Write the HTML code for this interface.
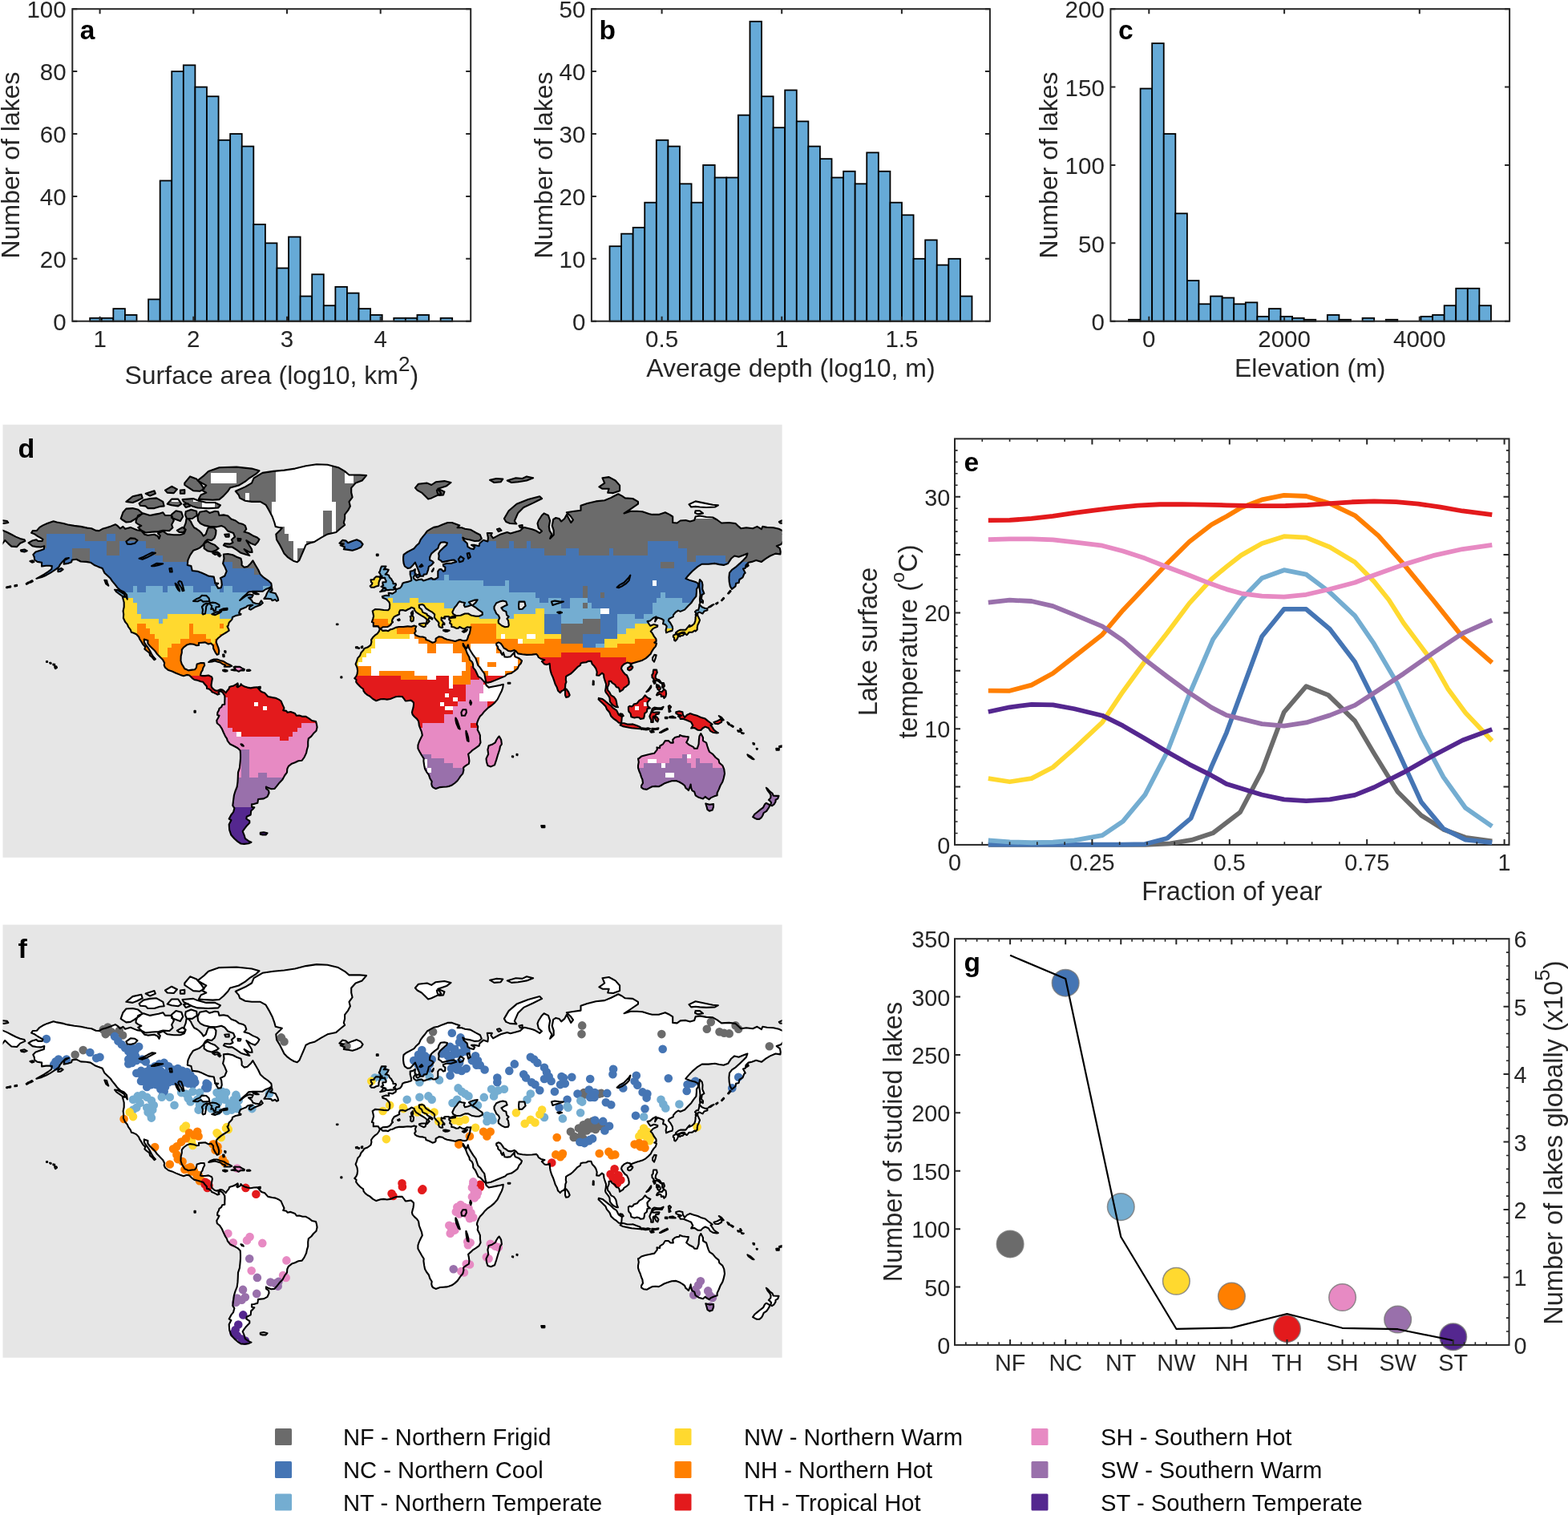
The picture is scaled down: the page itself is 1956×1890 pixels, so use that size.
<!DOCTYPE html>
<html lang="en"><head><meta charset="utf-8"><title>Lake thermal regions</title>
<style>html,body{margin:0;padding:0;background:#fff}body{width:1956px;height:1890px;overflow:hidden}svg{display:block}</style>
</head><body>
<svg xmlns="http://www.w3.org/2000/svg" width="1956" height="1890" viewBox="0 0 1956 1890" font-family='"Liberation Sans", Arial, Helvetica, sans-serif'>
<rect width="1956" height="1890" fill="#fff"/>
<rect x="112.2" y="396.81" width="14.58" height="3.9" fill="#66aad7" stroke="#000" stroke-width="1.8"/>
<rect x="126.78" y="396.81" width="14.58" height="3.9" fill="#66aad7" stroke="#000" stroke-width="1.8"/>
<rect x="141.36" y="385.12" width="14.58" height="15.58" fill="#66aad7" stroke="#000" stroke-width="1.8"/>
<rect x="155.94" y="392.91" width="14.58" height="7.79" fill="#66aad7" stroke="#000" stroke-width="1.8"/>
<rect x="185.1" y="373.44" width="14.58" height="27.27" fill="#66aad7" stroke="#000" stroke-width="1.8"/>
<rect x="199.68" y="225.42" width="14.58" height="175.28" fill="#66aad7" stroke="#000" stroke-width="1.8"/>
<rect x="214.26" y="89.1" width="14.58" height="311.6" fill="#66aad7" stroke="#000" stroke-width="1.8"/>
<rect x="228.84" y="81.31" width="14.58" height="319.39" fill="#66aad7" stroke="#000" stroke-width="1.8"/>
<rect x="243.42" y="108.57" width="14.58" height="292.12" fill="#66aad7" stroke="#000" stroke-width="1.8"/>
<rect x="258" y="120.26" width="14.58" height="280.44" fill="#66aad7" stroke="#000" stroke-width="1.8"/>
<rect x="272.58" y="174.79" width="14.58" height="225.91" fill="#66aad7" stroke="#000" stroke-width="1.8"/>
<rect x="287.16" y="167" width="14.58" height="233.7" fill="#66aad7" stroke="#000" stroke-width="1.8"/>
<rect x="301.74" y="182.58" width="14.58" height="218.12" fill="#66aad7" stroke="#000" stroke-width="1.8"/>
<rect x="316.32" y="279.95" width="14.58" height="120.75" fill="#66aad7" stroke="#000" stroke-width="1.8"/>
<rect x="330.9" y="303.32" width="14.58" height="97.38" fill="#66aad7" stroke="#000" stroke-width="1.8"/>
<rect x="345.48" y="334.49" width="14.58" height="66.22" fill="#66aad7" stroke="#000" stroke-width="1.8"/>
<rect x="360.06" y="295.53" width="14.58" height="105.17" fill="#66aad7" stroke="#000" stroke-width="1.8"/>
<rect x="374.64" y="369.54" width="14.58" height="31.16" fill="#66aad7" stroke="#000" stroke-width="1.8"/>
<rect x="389.22" y="342.27" width="14.58" height="58.42" fill="#66aad7" stroke="#000" stroke-width="1.8"/>
<rect x="403.8" y="381.22" width="14.58" height="19.48" fill="#66aad7" stroke="#000" stroke-width="1.8"/>
<rect x="418.38" y="357.86" width="14.58" height="42.84" fill="#66aad7" stroke="#000" stroke-width="1.8"/>
<rect x="432.96" y="365.64" width="14.58" height="35.05" fill="#66aad7" stroke="#000" stroke-width="1.8"/>
<rect x="447.54" y="385.12" width="14.58" height="15.58" fill="#66aad7" stroke="#000" stroke-width="1.8"/>
<rect x="462.12" y="392.91" width="14.58" height="7.79" fill="#66aad7" stroke="#000" stroke-width="1.8"/>
<rect x="491.28" y="396.81" width="14.58" height="3.9" fill="#66aad7" stroke="#000" stroke-width="1.8"/>
<rect x="505.86" y="396.81" width="14.58" height="3.9" fill="#66aad7" stroke="#000" stroke-width="1.8"/>
<rect x="520.44" y="392.91" width="14.58" height="7.79" fill="#66aad7" stroke="#000" stroke-width="1.8"/>
<rect x="549.6" y="396.81" width="14.58" height="3.9" fill="#66aad7" stroke="#000" stroke-width="1.8"/>
<rect x="90.3" y="11.2" width="496.9" height="389.5" fill="none" stroke="#262626" stroke-width="2"/>
<path d="M124.6 400.7v-6M124.6 11.2v6M241.3 400.7v-6M241.3 11.2v6M358 400.7v-6M358 11.2v6M474.7 400.7v-6M474.7 11.2v6" stroke="#262626" stroke-width="2" fill="none"/>
<path d="M90.3 400.7h6M587.2 400.7h-6M90.3 322.8h6M587.2 322.8h-6M90.3 244.9h6M587.2 244.9h-6M90.3 167h6M587.2 167h-6M90.3 89.1h6M587.2 89.1h-6M90.3 11.2h6M587.2 11.2h-6" stroke="#262626" stroke-width="2" fill="none"/>
<text x="124.6" y="433.2" font-size="29.5" text-anchor="middle" fill="#262626">1</text>
<text x="241.3" y="433.2" font-size="29.5" text-anchor="middle" fill="#262626">2</text>
<text x="358" y="433.2" font-size="29.5" text-anchor="middle" fill="#262626">3</text>
<text x="474.7" y="433.2" font-size="29.5" text-anchor="middle" fill="#262626">4</text>
<text x="82.7" y="411.9" font-size="29.5" text-anchor="end" fill="#262626">0</text>
<text x="82.7" y="334" font-size="29.5" text-anchor="end" fill="#262626">20</text>
<text x="82.7" y="256.1" font-size="29.5" text-anchor="end" fill="#262626">40</text>
<text x="82.7" y="178.2" font-size="29.5" text-anchor="end" fill="#262626">60</text>
<text x="82.7" y="100.3" font-size="29.5" text-anchor="end" fill="#262626">80</text>
<text x="82.7" y="22.4" font-size="29.5" text-anchor="end" fill="#262626">100</text>
<text x="23.7" y="205.95" font-size="32" text-anchor="middle" fill="#262626" transform="rotate(-90 23.7 205.95)">Number of lakes</text>
<text x="338.75" y="478.6" font-size="32" text-anchor="middle" fill="#262626">Surface area (log10, km<tspan dy="-16" font-size="26">2</tspan><tspan dy="16">)</tspan></text>
<text x="99.8" y="49" font-size="33.5" font-weight="bold" fill="#000">a</text>
<rect x="760.5" y="307.22" width="14.58" height="93.48" fill="#66aad7" stroke="#000" stroke-width="1.8"/>
<rect x="775.08" y="291.64" width="14.58" height="109.06" fill="#66aad7" stroke="#000" stroke-width="1.8"/>
<rect x="789.66" y="283.85" width="14.58" height="116.85" fill="#66aad7" stroke="#000" stroke-width="1.8"/>
<rect x="804.24" y="252.69" width="14.58" height="148.01" fill="#66aad7" stroke="#000" stroke-width="1.8"/>
<rect x="818.82" y="174.79" width="14.58" height="225.91" fill="#66aad7" stroke="#000" stroke-width="1.8"/>
<rect x="833.4" y="182.58" width="14.58" height="218.12" fill="#66aad7" stroke="#000" stroke-width="1.8"/>
<rect x="847.98" y="229.32" width="14.58" height="171.38" fill="#66aad7" stroke="#000" stroke-width="1.8"/>
<rect x="862.56" y="252.69" width="14.58" height="148.01" fill="#66aad7" stroke="#000" stroke-width="1.8"/>
<rect x="877.14" y="205.95" width="14.58" height="194.75" fill="#66aad7" stroke="#000" stroke-width="1.8"/>
<rect x="891.72" y="221.53" width="14.58" height="179.17" fill="#66aad7" stroke="#000" stroke-width="1.8"/>
<rect x="906.3" y="221.53" width="14.58" height="179.17" fill="#66aad7" stroke="#000" stroke-width="1.8"/>
<rect x="920.88" y="143.63" width="14.58" height="257.07" fill="#66aad7" stroke="#000" stroke-width="1.8"/>
<rect x="935.46" y="26.78" width="14.58" height="373.92" fill="#66aad7" stroke="#000" stroke-width="1.8"/>
<rect x="950.04" y="120.26" width="14.58" height="280.44" fill="#66aad7" stroke="#000" stroke-width="1.8"/>
<rect x="964.62" y="159.21" width="14.58" height="241.49" fill="#66aad7" stroke="#000" stroke-width="1.8"/>
<rect x="979.2" y="112.47" width="14.58" height="288.23" fill="#66aad7" stroke="#000" stroke-width="1.8"/>
<rect x="993.78" y="151.42" width="14.58" height="249.28" fill="#66aad7" stroke="#000" stroke-width="1.8"/>
<rect x="1008.36" y="182.58" width="14.58" height="218.12" fill="#66aad7" stroke="#000" stroke-width="1.8"/>
<rect x="1022.94" y="198.16" width="14.58" height="202.54" fill="#66aad7" stroke="#000" stroke-width="1.8"/>
<rect x="1037.52" y="221.53" width="14.58" height="179.17" fill="#66aad7" stroke="#000" stroke-width="1.8"/>
<rect x="1052.1" y="213.74" width="14.58" height="186.96" fill="#66aad7" stroke="#000" stroke-width="1.8"/>
<rect x="1066.68" y="229.32" width="14.58" height="171.38" fill="#66aad7" stroke="#000" stroke-width="1.8"/>
<rect x="1081.26" y="190.37" width="14.58" height="210.33" fill="#66aad7" stroke="#000" stroke-width="1.8"/>
<rect x="1095.84" y="213.74" width="14.58" height="186.96" fill="#66aad7" stroke="#000" stroke-width="1.8"/>
<rect x="1110.42" y="252.69" width="14.58" height="148.01" fill="#66aad7" stroke="#000" stroke-width="1.8"/>
<rect x="1125" y="268.27" width="14.58" height="132.43" fill="#66aad7" stroke="#000" stroke-width="1.8"/>
<rect x="1139.58" y="322.8" width="14.58" height="77.9" fill="#66aad7" stroke="#000" stroke-width="1.8"/>
<rect x="1154.16" y="299.43" width="14.58" height="101.27" fill="#66aad7" stroke="#000" stroke-width="1.8"/>
<rect x="1168.74" y="330.59" width="14.58" height="70.11" fill="#66aad7" stroke="#000" stroke-width="1.8"/>
<rect x="1183.32" y="322.8" width="14.58" height="77.9" fill="#66aad7" stroke="#000" stroke-width="1.8"/>
<rect x="1197.9" y="369.54" width="14.58" height="31.16" fill="#66aad7" stroke="#000" stroke-width="1.8"/>
<rect x="737.9" y="11.2" width="497" height="389.5" fill="none" stroke="#262626" stroke-width="2"/>
<path d="M825.6 400.7v-6M825.6 11.2v6M975.2 400.7v-6M975.2 11.2v6M1124.9 400.7v-6M1124.9 11.2v6" stroke="#262626" stroke-width="2" fill="none"/>
<path d="M737.9 400.7h6M1234.9 400.7h-6M737.9 322.8h6M1234.9 322.8h-6M737.9 244.9h6M1234.9 244.9h-6M737.9 167h6M1234.9 167h-6M737.9 89.1h6M1234.9 89.1h-6M737.9 11.2h6M1234.9 11.2h-6" stroke="#262626" stroke-width="2" fill="none"/>
<text x="825.6" y="433.2" font-size="29.5" text-anchor="middle" fill="#262626">0.5</text>
<text x="975.2" y="433.2" font-size="29.5" text-anchor="middle" fill="#262626">1</text>
<text x="1124.9" y="433.2" font-size="29.5" text-anchor="middle" fill="#262626">1.5</text>
<text x="730.3" y="411.9" font-size="29.5" text-anchor="end" fill="#262626">0</text>
<text x="730.3" y="334" font-size="29.5" text-anchor="end" fill="#262626">10</text>
<text x="730.3" y="256.1" font-size="29.5" text-anchor="end" fill="#262626">20</text>
<text x="730.3" y="178.2" font-size="29.5" text-anchor="end" fill="#262626">30</text>
<text x="730.3" y="100.3" font-size="29.5" text-anchor="end" fill="#262626">40</text>
<text x="730.3" y="22.4" font-size="29.5" text-anchor="end" fill="#262626">50</text>
<text x="688.9" y="205.95" font-size="32" text-anchor="middle" fill="#262626" transform="rotate(-90 688.9 205.95)">Number of lakes</text>
<text x="986.4" y="470" font-size="32" text-anchor="middle" fill="#262626">Average depth (log10, m)</text>
<text x="747.4" y="49" font-size="33.5" font-weight="bold" fill="#000">b</text>
<rect x="1408" y="398.75" width="14.58" height="1.95" fill="#66aad7" stroke="#000" stroke-width="1.8"/>
<rect x="1422.58" y="110.52" width="14.58" height="290.18" fill="#66aad7" stroke="#000" stroke-width="1.8"/>
<rect x="1437.16" y="54.04" width="14.58" height="346.66" fill="#66aad7" stroke="#000" stroke-width="1.8"/>
<rect x="1451.74" y="167" width="14.58" height="233.7" fill="#66aad7" stroke="#000" stroke-width="1.8"/>
<rect x="1466.32" y="266.32" width="14.58" height="134.38" fill="#66aad7" stroke="#000" stroke-width="1.8"/>
<rect x="1480.9" y="350.06" width="14.58" height="50.63" fill="#66aad7" stroke="#000" stroke-width="1.8"/>
<rect x="1495.48" y="379.28" width="14.58" height="21.42" fill="#66aad7" stroke="#000" stroke-width="1.8"/>
<rect x="1510.06" y="369.54" width="14.58" height="31.16" fill="#66aad7" stroke="#000" stroke-width="1.8"/>
<rect x="1524.64" y="371.49" width="14.58" height="29.21" fill="#66aad7" stroke="#000" stroke-width="1.8"/>
<rect x="1539.22" y="379.28" width="14.58" height="21.42" fill="#66aad7" stroke="#000" stroke-width="1.8"/>
<rect x="1553.8" y="377.33" width="14.58" height="23.37" fill="#66aad7" stroke="#000" stroke-width="1.8"/>
<rect x="1568.38" y="394.86" width="14.58" height="5.84" fill="#66aad7" stroke="#000" stroke-width="1.8"/>
<rect x="1582.96" y="385.12" width="14.58" height="15.58" fill="#66aad7" stroke="#000" stroke-width="1.8"/>
<rect x="1597.54" y="394.86" width="14.58" height="5.84" fill="#66aad7" stroke="#000" stroke-width="1.8"/>
<rect x="1612.12" y="396.81" width="14.58" height="3.9" fill="#66aad7" stroke="#000" stroke-width="1.8"/>
<rect x="1626.7" y="398.75" width="14.58" height="1.95" fill="#66aad7" stroke="#000" stroke-width="1.8"/>
<rect x="1655.86" y="392.91" width="14.58" height="7.79" fill="#66aad7" stroke="#000" stroke-width="1.8"/>
<rect x="1670.44" y="398.75" width="14.58" height="1.95" fill="#66aad7" stroke="#000" stroke-width="1.8"/>
<rect x="1699.6" y="396.81" width="14.58" height="3.9" fill="#66aad7" stroke="#000" stroke-width="1.8"/>
<rect x="1728.76" y="398.75" width="14.58" height="1.95" fill="#66aad7" stroke="#000" stroke-width="1.8"/>
<rect x="1772.5" y="394.86" width="14.58" height="5.84" fill="#66aad7" stroke="#000" stroke-width="1.8"/>
<rect x="1787.08" y="392.91" width="14.58" height="7.79" fill="#66aad7" stroke="#000" stroke-width="1.8"/>
<rect x="1801.66" y="381.22" width="14.58" height="19.48" fill="#66aad7" stroke="#000" stroke-width="1.8"/>
<rect x="1816.24" y="359.8" width="14.58" height="40.9" fill="#66aad7" stroke="#000" stroke-width="1.8"/>
<rect x="1830.82" y="359.8" width="14.58" height="40.9" fill="#66aad7" stroke="#000" stroke-width="1.8"/>
<rect x="1845.4" y="381.22" width="14.58" height="19.48" fill="#66aad7" stroke="#000" stroke-width="1.8"/>
<rect x="1385.4" y="11.2" width="497.7" height="389.5" fill="none" stroke="#262626" stroke-width="2"/>
<path d="M1433.3 400.7v-6M1433.3 11.2v6M1602.1 400.7v-6M1602.1 11.2v6M1770.8 400.7v-6M1770.8 11.2v6" stroke="#262626" stroke-width="2" fill="none"/>
<path d="M1385.4 400.7h6M1883.1 400.7h-6M1385.4 303.32h6M1883.1 303.32h-6M1385.4 205.95h6M1883.1 205.95h-6M1385.4 108.57h6M1883.1 108.57h-6M1385.4 11.2h6M1883.1 11.2h-6" stroke="#262626" stroke-width="2" fill="none"/>
<text x="1433.3" y="433.2" font-size="29.5" text-anchor="middle" fill="#262626">0</text>
<text x="1602.1" y="433.2" font-size="29.5" text-anchor="middle" fill="#262626">2000</text>
<text x="1770.8" y="433.2" font-size="29.5" text-anchor="middle" fill="#262626">4000</text>
<text x="1377.8" y="411.9" font-size="29.5" text-anchor="end" fill="#262626">0</text>
<text x="1377.8" y="314.52" font-size="29.5" text-anchor="end" fill="#262626">50</text>
<text x="1377.8" y="217.15" font-size="29.5" text-anchor="end" fill="#262626">100</text>
<text x="1377.8" y="119.77" font-size="29.5" text-anchor="end" fill="#262626">150</text>
<text x="1377.8" y="22.4" font-size="29.5" text-anchor="end" fill="#262626">200</text>
<text x="1318.8" y="205.95" font-size="32" text-anchor="middle" fill="#262626" transform="rotate(-90 1318.8 205.95)">Number of lakes</text>
<text x="1634.25" y="470" font-size="32" text-anchor="middle" fill="#262626">Elevation (m)</text>
<text x="1394.9" y="49" font-size="33.5" font-weight="bold" fill="#000">c</text>
<defs>
<clipPath id="mapclip"><rect x="3.5" y="529.7" width="972.1" height="540.1"/></clipPath>
<path id="land" d="M35.6 677.2L40.0 674.6L45.4 673.2L47.5 675.0L52.6 675.0L53.5 672.8L50.5 670.9L47.2 669.1L43.2 666.4L39.1 664.7L40.8 662.1L45.9 661.9L49.4 657.9L53.5 655.4L58.9 653.0L66.7 650.3L71.0 651.5L79.1 653.0L84.5 654.5L92.6 655.9L100.7 656.9L108.8 658.6L114.2 659.3L119.6 661.9L123.7 662.1L127.7 659.8L133.1 658.3L138.5 656.4L143.9 654.2L146.6 655.9L149.9 659.3L153.4 656.9L156.1 659.8L162.8 657.9L170.9 661.2L176.3 662.1L180.4 666.8L184.4 667.7L192.5 666.8L196.6 668.7L198.5 671.9L199.8 668.2L197.1 665.4L203.3 662.6L208.7 666.4L216.8 667.3L224.9 667.3L229.8 665.4L231.4 661.7L229.5 657.9L231.7 652.5L232.5 647.5L234.9 647.0L237.9 650.5L239.8 654.5L242.2 658.3L245.2 659.8L248.4 662.1L251.4 665.0L253.8 668.7L256.8 666.4L258.4 661.7L260.0 657.9L266.8 658.3L269.5 661.7L269.2 666.4L267.6 670.9L264.1 674.1L258.7 673.2L256.0 675.5L253.3 679.9L249.2 683.4L246.5 684.7L241.1 686.8L237.1 692.7L234.4 698.9L233.8 704.9L238.4 706.1L239.8 712.0L246.5 712.7L251.9 714.7L260.0 718.5L266.8 719.6L268.1 725.9L270.0 730.3L272.2 733.9L275.7 733.2L276.8 729.6L276.2 724.1L274.9 721.1L280.3 718.5L282.7 712.7L280.3 706.9L278.1 702.9L279.5 696.8L278.9 691.5L284.3 691.0L290.3 692.3L295.1 694.8L300.5 696.8L301.6 700.9L301.6 704.9L304.6 707.7L308.6 706.9L312.7 702.9L315.4 699.3L318.6 704.9L322.1 710.8L324.8 716.6L328.9 720.4L334.3 724.1L338.3 727.8L338.9 731.4L335.6 733.6L331.6 735.0L327.5 737.8L322.1 737.8L315.4 737.8L310.0 738.5L307.3 741.3L303.2 744.8L299.2 748.9L301.9 746.9L305.9 743.8L311.3 741.5L315.7 742.4L314.0 745.5L310.0 745.5L314.0 748.9L315.4 751.6L319.4 753.0L323.5 753.3L325.9 749.3L327.8 752.3L324.8 754.7L318.1 757.3L312.7 760.6L310.8 759.7L311.3 757.3L315.4 754.7L312.7 754.7L308.6 755.7L307.3 757.3L303.2 759.0L300.0 760.3L298.6 763.3L298.1 764.9L300.5 766.0L300.3 766.8L296.5 767.5L293.8 768.1L290.0 770.0L289.5 772.6L287.3 775.1L285.7 776.7L284.6 780.8L283.5 781.4L285.1 784.5L285.7 786.6L283.0 788.5L279.5 790.6L276.2 792.7L272.2 796.0L270.3 798.1L269.7 801.1L271.1 804.9L272.2 807.6L273.3 812.0L272.7 816.0L270.8 816.9L268.9 814.3L266.2 809.0L266.0 805.5L263.3 802.6L260.0 803.5L256.0 801.4L251.9 801.7L247.9 802.0L248.1 804.9L245.2 805.2L241.7 803.8L237.1 803.2L233.0 804.6L229.0 807.6L226.8 810.5L226.8 814.3L225.7 818.6L225.5 824.3L226.8 828.5L229.0 831.9L230.3 834.2L233.0 835.3L234.9 836.4L239.8 835.6L243.0 835.3L244.9 832.8L245.7 828.5L250.6 827.1L254.6 827.1L255.2 829.9L253.3 833.3L252.5 836.4L251.1 838.3L250.0 842.5L251.9 843.1L256.0 843.1L260.0 842.5L264.1 844.4L264.9 846.6L264.1 850.8L263.5 854.9L264.1 857.6L266.8 860.3L269.5 861.7L272.2 861.2L274.9 860.1L277.6 860.6L280.3 862.8L281.6 864.4L283.0 862.2L285.4 859.5L286.2 857.1L288.4 856.3L291.6 855.4L294.6 853.8L296.5 852.4L297.0 854.3L295.4 856.5L296.5 857.3L300.0 855.2L300.5 853.2L301.9 854.9L305.1 856.5L308.6 857.6L312.7 858.4L316.7 857.6L320.8 857.3L322.4 859.0L324.8 861.7L326.2 863.1L330.2 864.4L334.3 869.0L339.7 870.1L343.7 870.7L347.8 872.6L350.5 874.5L352.6 879.3L354.5 883.4L353.2 886.1L357.2 886.9L358.6 888.8L362.6 888.0L368.0 890.1L369.9 892.8L373.4 892.6L377.5 893.9L381.5 893.9L385.6 896.3L389.1 899.0L394.0 900.1L395.0 903.6L395.6 907.2L394.5 911.8L391.0 915.1L388.3 918.6L384.8 921.4L384.2 925.5L384.2 931.0L382.9 935.2L382.1 939.4L379.4 945.0L376.7 948.7L372.1 949.3L368.0 951.3L364.0 952.7L359.9 955.9L358.3 959.3L358.0 963.7L355.1 967.5L352.4 972.5L348.6 976.4L345.1 980.9L342.4 984.0L338.3 984.3L334.3 982.8L331.9 981.5L332.1 984.0L335.1 986.1L335.6 989.2L333.5 993.9L328.9 996.4L322.1 997.0L321.3 1001.8L316.7 1003.1L314.0 1003.4L314.0 1006.6L317.3 1007.3L315.4 1009.5L313.2 1011.5L312.7 1016.5L307.8 1018.8L307.3 1021.5L311.3 1024.2L311.3 1026.6L307.3 1030.8L304.6 1034.3L302.7 1037.2L304.6 1041.8L305.9 1046.2L310.0 1049.2L313.5 1050.7L310.0 1052.2L304.6 1052.9L300.5 1052.5L296.5 1049.9L292.4 1046.2L288.4 1041.8L286.2 1035.4L285.7 1028.4L288.4 1023.2L285.7 1021.5L288.4 1016.5L291.1 1013.2L292.4 1008.2L290.3 1005.0L291.1 998.6L291.9 992.3L293.5 987.0L295.7 981.5L296.5 975.5L296.8 969.6L297.0 963.7L298.9 957.9L299.5 952.1L300.0 946.4L300.0 940.8L299.7 936.3L296.5 933.2L292.4 931.0L287.0 928.3L283.8 924.1L283.0 921.4L281.1 918.6L278.9 914.0L276.8 909.1L274.1 905.0L270.8 902.3L270.3 898.8L272.2 895.5L273.5 892.8L271.1 892.0L271.4 888.8L273.0 886.1L273.5 883.9L276.2 882.0L277.3 879.3L280.3 878.8L280.3 875.3L280.5 871.2L280.3 867.7L279.2 866.3L277.8 863.9L274.9 862.0L272.4 863.6L273.5 865.8L271.4 866.6L268.9 865.2L266.2 863.9L264.1 863.1L263.5 861.7L260.6 859.5L258.1 859.0L257.9 856.3L255.4 853.5L253.3 850.8L250.6 850.2L246.5 848.8L242.5 848.0L239.8 846.1L236.3 842.5L233.0 841.9L229.0 843.3L224.9 841.9L219.5 839.7L214.7 837.5L210.1 836.1L206.0 832.8L204.7 829.9L205.2 827.1L203.3 823.4L199.3 819.2L195.8 815.7L193.9 812.8L191.2 809.9L187.1 806.1L184.4 802.6L184.4 799.0L179.8 797.5L179.8 801.1L181.7 804.1L185.0 808.5L187.1 812.0L189.0 815.7L191.2 819.2L193.9 822.3L192.5 823.2L189.8 820.0L187.1 817.7L186.3 814.3L183.1 812.0L180.4 809.6L181.2 807.0L178.2 803.8L176.3 800.5L174.2 797.2L173.1 794.5L170.1 791.2L166.9 789.7L163.9 788.8L162.8 785.7L160.1 782.0L158.8 778.9L156.1 775.8L153.9 771.0L154.2 766.2L153.6 762.3L154.7 757.3L154.7 751.6L152.8 744.5L157.4 744.8L158.8 747.6L158.0 742.0L154.7 738.5L150.7 736.8L146.6 733.2L143.9 729.6L139.9 724.8L137.7 721.5L134.5 718.5L130.4 714.7L127.7 708.9L122.3 706.9L118.3 705.3L112.9 701.7L107.5 700.9L100.7 700.5L95.3 697.7L89.9 698.5L89.1 701.3L84.5 702.9L79.6 703.7L80.5 698.9L85.9 696.0L81.8 696.8L77.8 700.9L75.1 704.1L73.2 707.7L68.3 711.2L62.9 714.7L57.5 717.7L52.1 720.0L45.4 721.8L49.4 719.6L54.8 716.6L60.2 713.1L64.3 710.0L64.8 706.1L61.6 705.7L57.5 705.7L52.1 706.5L52.1 701.7L46.7 700.9L43.2 698.5L42.7 694.8L41.3 691.9L44.5 688.5L50.8 686.4L54.8 685.1L55.3 681.2L50.8 682.5L45.4 682.1L40.5 681.2ZM293.8 612.8L305.9 607.4L314.0 602.6L316.7 596.3L327.5 589.9L341.0 587.9L354.5 586.6L368.0 584.6L381.5 581.2L395.0 579.2L408.5 579.8L422.0 583.2L430.1 587.9L435.5 592.5L449.0 592.5L457.1 593.1L451.7 599.5L443.6 602.6L438.2 608.6L438.2 614.6L439.6 620.3L435.5 625.9L436.9 631.4L434.2 636.7L430.1 641.9L430.1 647.0L428.8 652.0L430.1 655.0L424.7 659.3L419.3 664.0L408.5 666.4L400.4 670.9L392.3 675.9L385.6 677.7L381.5 679.9L378.8 686.4L376.1 692.7L373.4 698.9L370.7 701.3L366.7 700.1L362.6 697.7L358.6 694.8L354.5 690.6L351.8 685.1L349.1 679.9L345.1 673.2L344.3 666.4L349.1 661.7L351.8 658.8L343.7 656.9L342.4 652.0L339.7 644.5L335.6 636.7L331.6 629.8L324.8 625.9L314.0 625.9L305.9 624.8L299.2 621.4L297.8 617.5ZM423.4 677.7L427.4 673.7L431.5 674.6L434.2 677.2L439.6 675.0L445.0 673.2L449.9 675.5L452.6 679.0L450.4 682.5L445.0 685.1L439.6 686.8L434.2 685.9L428.8 685.1L430.1 682.5L424.7 680.3L428.8 678.6ZM329.4 746.9L331.6 743.8L332.9 740.3L335.6 736.1L339.1 733.2L339.7 736.1L337.0 738.5L339.7 739.2L343.7 740.3L345.1 743.1L346.4 745.5L347.2 748.9L345.1 749.9L343.2 747.9L339.7 749.3L338.3 747.2L334.3 746.9ZM260.3 826.0L262.7 824.0L266.8 822.6L270.8 822.6L274.9 824.0L278.9 825.1L283.0 827.7L287.0 829.4L289.2 830.8L287.0 831.6L281.6 831.6L279.7 831.6L281.1 829.7L277.6 828.5L274.9 826.6L270.8 825.4L268.1 824.6L264.6 825.4ZM288.6 835.8L292.4 836.4L295.1 836.4L297.8 837.8L300.5 836.1L304.6 836.4L304.9 835.0L301.9 833.6L299.2 831.9L295.9 831.9L293.0 831.6L291.6 832.2L293.5 834.2L293.8 835.3L291.1 835.3ZM278.1 836.1L280.3 835.6L283.5 836.4L283.5 837.2L281.1 837.8L278.4 836.9ZM308.1 835.8L311.3 835.6L312.4 836.4L311.3 836.9L308.1 836.9ZM322.4 857.1L324.8 856.8L324.8 858.7L322.4 858.7ZM143.1 735.7L146.6 736.1L150.7 738.5L154.7 741.0L156.3 744.1L152.8 743.8L149.3 741.3L145.3 738.5ZM130.4 723.7L133.1 724.1L133.9 727.0L135.3 730.7L132.3 728.5ZM72.4 710.8L76.4 708.9L78.6 710.4L75.6 712.7L72.4 713.1ZM25.9 686.4L30.5 685.5L33.7 687.2L30.5 688.5L26.5 687.7ZM37.5 700.1L40.8 699.3L42.4 700.9L40.0 701.7ZM324.8 1038.9L328.9 1038.2L333.5 1039.3L331.6 1041.5L327.5 1041.5L324.8 1040.7ZM315.4 738.9L319.4 739.6L322.7 741.3L319.4 741.3L315.9 739.9ZM68.3 830.8L70.5 831.6L71.0 832.8L69.1 834.2L68.3 832.5ZM66.4 828.5L68.3 828.8L67.8 829.7L66.4 829.4ZM62.1 826.8L63.4 826.8L63.7 827.7L62.6 827.7ZM58.0 825.1L59.1 825.1L59.1 826.0L58.0 826.0ZM242.5 886.9L243.8 886.9L243.8 888.8L242.5 888.8ZM278.1 816.6L279.5 816.6L279.7 819.2L278.4 819.2ZM280.3 812.0L281.6 812.5L281.4 814.3L280.3 813.4ZM37.3 725.6L40.0 724.1L40.8 725.2L37.8 726.7ZM32.7 728.1L35.4 726.3L35.9 727.4L33.2 728.9ZM18.4 730.3L21.1 729.9L21.1 731.0L18.4 731.4ZM11.1 731.8L13.2 731.4L13.2 732.5L11.1 732.8ZM8.1 732.5L9.4 732.1L9.4 733.2L8.1 733.2ZM249.2 638.8L257.3 637.2L261.4 639.9L268.1 637.8L272.2 638.3L273.5 643.0L278.9 642.4L284.3 643.5L288.4 647.5L293.8 649.5L297.8 652.5L303.2 654.0L305.9 655.9L307.3 660.2L304.6 663.6L310.0 665.0L315.4 668.2L320.8 670.5L323.5 672.8L321.6 676.3L318.1 679.9L312.7 677.7L307.3 674.1L311.3 680.8L314.0 685.1L314.6 688.9L311.3 688.9L304.6 685.1L310.0 691.5L311.3 693.1L305.9 691.5L300.5 689.8L295.1 685.9L289.7 682.5L284.3 682.5L278.9 680.3L280.3 678.1L287.0 678.6L290.5 676.8L288.9 673.2L293.0 669.6L291.1 665.0L284.3 662.6L280.3 657.9L276.2 655.9L269.5 657.4L261.4 656.9L254.6 655.4L250.0 653.0L247.1 649.5L246.5 644.5ZM169.6 649.5L172.3 643.0L179.0 640.4L187.1 643.0L192.5 641.9L197.9 640.9L203.3 639.3L206.0 643.0L214.1 643.0L216.8 649.5L214.1 654.5L215.5 658.3L211.4 662.1L203.3 661.7L197.9 663.1L189.8 663.6L181.7 664.5L176.3 661.7L172.3 657.9L176.3 655.9L172.3 654.0L169.6 652.0ZM150.7 647.0L153.4 639.3L157.4 634.6L165.5 634.1L172.3 635.7L177.7 640.4L173.6 644.0L166.9 648.5L162.8 651.0L157.4 651.5L152.0 648.0ZM173.6 628.1L179.0 623.7L187.1 622.0L195.2 621.4L203.3 625.9L204.7 631.4L199.3 631.9L192.5 634.1L184.4 634.1L181.7 631.4L175.0 630.8ZM157.4 625.9L165.5 619.2L176.3 616.9L177.7 621.4L170.9 624.8L165.5 627.0ZM208.7 628.7L214.1 622.6L222.2 622.6L226.3 628.7L222.2 631.4L214.1 630.3ZM227.6 623.1L241.1 622.0L246.5 624.2L257.3 627.0L268.1 627.0L274.9 630.3L272.2 633.5L260.0 634.1L246.5 633.5L239.8 631.4L233.0 628.1L229.0 625.9ZM231.7 638.3L238.4 635.7L245.2 637.8L245.7 643.0L239.8 647.0L233.0 647.0L231.1 642.4ZM214.1 641.9L219.5 637.2L226.3 638.8L228.2 644.5L224.9 650.0L219.5 648.0L214.1 646.0ZM220.9 661.7L227.6 657.9L231.7 660.7L229.0 664.0L223.6 664.0ZM254.6 678.1L258.7 675.5L262.7 677.7L268.1 679.9L272.7 684.2L269.5 686.4L264.1 688.5L258.7 687.2L254.6 684.2ZM246.5 599.5L254.6 593.1L260.0 587.9L273.5 583.2L295.1 582.6L314.0 584.6L323.5 587.3L319.4 591.2L311.3 596.3L305.9 600.7L297.8 605.6L287.0 608.6L284.3 612.8L278.9 618.6L273.5 623.1L265.4 623.7L254.6 623.1L247.9 622.6L250.6 617.5L257.3 614.6L251.9 611.6L257.3 605.6L251.9 602.6ZM230.3 602.6L237.1 594.4L245.2 597.6L250.6 603.8L254.6 609.8L249.2 612.8L241.1 612.2L235.7 608.6L230.3 605.0ZM206.0 611.6L214.1 606.8L220.9 610.4L216.8 615.1L208.7 614.6ZM224.9 611.6L230.3 611.0L230.3 615.7L224.9 615.7ZM181.7 615.7L192.5 612.2L193.9 615.7L187.1 618.6ZM229.0 629.2L234.4 628.1L237.1 631.4L231.7 633.0ZM280.3 666.8L285.7 666.4L285.7 669.6L281.6 669.6ZM265.4 690.2L270.8 688.5L274.1 690.6L268.1 691.9ZM272.7 691.5L275.4 692.7L274.1 694.4L272.2 693.1ZM268.1 727.4L272.2 727.8L270.8 728.9ZM1003.4 675.0L997.2 677.7L993.2 682.1L986.4 681.6L982.4 678.1L978.3 674.1L974.5 679.0L968.8 681.2L972.9 684.2L973.7 688.5L973.4 691.5L967.5 690.6L960.7 693.5L955.3 696.8L949.9 700.9L943.2 698.9L937.8 700.9L933.7 701.7L930.5 704.9L929.7 708.9L927.0 709.6L929.7 714.7L928.3 715.8L926.5 720.4L922.4 723.0L921.6 727.0L918.1 727.8L917.5 731.4L913.0 735.0L910.8 731.4L909.7 725.9L909.4 720.4L910.0 714.7L913.0 710.8L917.5 707.7L922.9 702.9L927.0 698.9L931.0 694.8L932.4 690.6L927.0 692.7L921.6 694.8L916.2 693.5L912.1 696.8L908.1 702.9L902.7 704.9L897.3 704.1L891.9 702.9L883.8 703.7L875.7 703.7L870.3 706.9L863.5 712.7L858.1 718.5L855.4 721.8L860.8 724.1L863.5 724.8L867.6 725.9L870.8 727.8L871.1 731.4L868.9 735.0L868.9 738.5L868.4 743.8L864.9 748.2L862.2 752.3L858.1 756.3L854.1 760.6L848.7 762.9L846.0 761.6L842.7 763.9L840.0 767.2L839.8 769.4L834.6 772.0L833.8 774.2L836.0 776.7L838.7 781.4L839.2 784.5L838.4 786.9L835.2 787.6L831.1 789.4L830.6 786.0L831.7 781.4L829.8 778.9L827.1 778.3L827.9 773.6L825.2 772.0L820.3 770.4L817.1 775.4L818.4 769.4L814.9 771.0L810.9 774.5L807.6 775.1L809.5 778.3L811.4 780.8L815.7 778.9L820.3 780.2L820.1 781.7L815.7 783.6L814.4 784.5L811.7 787.6L813.6 789.7L815.7 793.6L818.4 797.2L818.7 799.9L816.3 801.7L819.0 802.6L817.9 806.4L815.5 809.0L813.0 812.8L811.7 815.7L808.7 818.6L805.5 821.4L801.4 823.7L797.4 824.9L794.7 825.7L790.6 827.1L787.9 828.0L787.1 830.5L786.0 827.4L782.5 826.6L778.5 828.5L775.8 831.3L775.0 834.2L777.1 837.8L779.8 841.1L782.0 842.5L783.9 846.6L784.7 850.8L784.4 853.5L781.2 856.3L778.5 857.9L777.1 860.3L773.1 862.8L772.5 859.5L771.2 857.6L769.0 857.3L767.1 854.1L763.6 851.9L762.0 849.7L759.6 849.9L759.6 853.5L757.7 857.6L758.2 861.2L760.4 863.6L762.3 867.4L765.8 869.3L768.2 872.6L769.0 875.8L769.6 879.3L770.9 882.3L768.5 882.0L765.0 880.1L763.1 878.2L760.9 875.3L760.4 870.4L758.8 867.7L755.8 863.9L755.0 861.7L755.8 857.6L756.1 853.5L754.7 849.4L753.4 845.3L753.1 841.4L750.9 839.7L747.4 842.8L744.2 842.5L744.7 838.3L743.4 834.2L741.5 831.3L738.8 828.5L737.4 824.9L733.9 824.9L731.2 826.3L727.2 826.6L724.5 827.4L723.9 829.9L720.4 832.2L717.7 835.0L714.5 838.3L711.8 840.6L708.3 842.5L706.1 843.9L705.8 848.0L706.4 850.8L705.3 853.5L705.0 858.2L703.4 860.9L700.7 862.0L698.8 864.2L696.1 861.7L694.8 857.6L692.6 853.5L691.3 849.4L689.9 845.3L688.0 841.1L686.7 836.9L686.1 833.6L685.9 829.9L685.6 827.7L684.5 828.5L681.3 829.1L679.1 828.5L675.9 825.1L679.4 823.2L674.8 822.0L671.8 820.0L670.5 817.4L669.1 816.0L663.7 816.6L657.0 816.9L651.6 816.3L646.2 815.4L643.5 812.2L641.6 811.1L637.3 812.5L634.0 812.0L631.3 809.9L628.6 808.5L626.7 805.5L624.6 802.6L621.9 801.4L619.2 802.6L619.2 804.6L621.1 807.0L621.3 809.3L624.6 812.2L625.1 814.8L626.7 817.2L627.8 814.0L628.9 817.2L629.4 819.4L632.7 819.7L636.7 819.2L640.8 814.8L641.8 813.4L641.8 817.2L642.9 819.4L647.5 821.2L651.0 824.3L649.9 827.4L647.5 829.9L645.6 834.2L642.1 836.9L638.1 839.7L632.7 841.1L630.0 843.6L623.2 846.4L617.8 848.6L612.4 850.8L608.4 851.6L606.5 851.3L605.7 848.0L604.9 843.9L604.3 840.3L601.6 836.9L598.9 832.8L596.2 829.9L594.9 825.7L593.5 821.4L590.3 817.2L588.1 813.7L584.9 808.5L583.8 804.4L582.2 808.8L580.0 807.0L577.6 802.9L577.8 805.5L580.0 808.5L581.4 811.4L582.7 815.1L585.4 820.0L585.9 822.9L588.9 825.7L590.0 828.5L590.3 832.8L593.0 836.1L594.9 840.3L596.5 843.9L599.7 845.8L603.0 849.4L605.9 852.1L606.5 854.9L609.7 857.6L613.8 856.8L619.2 855.7L624.6 854.6L627.8 853.8L627.3 857.6L625.9 861.7L623.2 867.1L620.5 872.6L616.5 877.2L612.4 880.7L608.4 883.4L604.3 887.4L601.6 890.9L598.9 893.6L597.0 896.9L595.4 900.9L594.9 903.6L596.2 906.4L595.7 910.4L597.6 914.0L598.9 917.3L598.9 921.4L599.5 926.3L597.6 930.2L593.5 933.2L589.5 935.8L587.3 938.0L584.1 940.8L584.9 945.0L585.4 949.3L584.9 952.7L580.0 955.9L578.1 957.6L578.4 960.8L577.3 965.1L574.6 968.1L572.7 971.0L570.6 974.0L567.3 977.0L563.8 979.4L559.8 980.9L557.1 981.5L553.0 981.8L549.0 982.1L543.6 984.0L540.3 982.4L539.0 980.9L538.2 977.9L538.7 974.9L536.3 971.0L534.9 966.6L532.2 963.1L530.1 959.3L529.2 955.0L528.4 949.3L528.7 946.4L526.0 942.2L523.3 937.4L521.4 933.8L521.4 929.6L522.8 925.5L524.7 921.4L526.8 917.3L526.0 913.2L524.7 909.9L522.8 905.0L522.5 902.3L522.0 899.6L520.1 896.9L517.1 894.2L514.7 891.5L513.9 888.8L514.7 885.5L515.5 882.8L516.0 879.3L516.0 876.6L513.9 874.5L512.5 873.6L508.5 874.2L505.8 874.5L503.9 871.7L501.7 869.0L497.7 868.8L493.6 869.3L490.9 870.4L486.8 872.0L482.8 872.6L478.7 872.0L474.7 872.3L469.3 874.2L465.2 872.0L461.2 868.5L458.5 867.1L455.8 865.0L453.6 862.2L453.1 859.5L450.4 857.6L449.0 856.3L446.3 853.5L444.2 850.8L444.5 848.0L442.3 846.1L444.2 843.9L445.5 841.1L446.1 836.9L445.5 832.8L443.6 828.5L445.0 824.9L446.3 820.9L449.0 818.0L450.4 814.3L453.1 811.4L454.4 809.0L458.5 807.6L462.5 804.6L463.4 801.1L463.1 798.1L465.2 795.1L467.9 792.4L470.6 790.6L472.8 787.6L473.6 785.1L475.2 784.8L477.4 786.9L481.4 786.6L484.1 787.3L486.8 785.4L489.6 784.8L493.6 782.9L497.7 782.0L503.1 782.0L508.5 781.4L513.3 781.7L516.6 780.5L519.3 781.4L517.9 784.5L518.7 787.6L517.1 789.7L517.9 791.8L519.8 793.0L523.3 794.2L527.4 794.5L530.9 795.7L531.4 798.1L535.5 799.6L539.5 801.7L542.2 801.1L543.6 799.6L543.6 796.6L547.6 794.2L551.7 794.8L554.4 796.6L557.6 797.8L562.5 798.7L567.9 799.9L571.9 798.4L574.6 798.1L576.8 799.0L580.0 799.3L582.2 798.7L583.5 796.0L584.1 793.6L585.7 790.6L586.5 786.9L586.8 784.5L587.3 782.3L585.4 782.6L582.7 782.3L580.0 784.2L577.3 784.2L573.3 782.0L571.9 783.6L569.2 783.9L566.0 782.3L563.3 782.0L563.3 778.9L561.1 777.3L561.9 774.5L560.3 773.2L560.3 771.6L563.8 770.7L567.9 770.4L567.9 768.4L565.2 768.8L562.5 770.0L560.3 770.0L559.8 769.1L557.1 769.1L554.4 769.4L553.5 771.3L555.2 771.6L551.7 771.0L550.6 770.4L550.6 773.6L551.7 774.5L553.0 776.7L554.4 777.7L554.4 779.2L552.2 778.6L551.7 780.2L552.2 782.9L550.3 782.9L548.1 782.0L547.1 779.5L547.6 777.3L546.3 775.4L544.4 773.6L541.9 770.4L542.2 766.5L539.5 763.9L535.5 761.6L531.4 759.0L528.7 755.0L526.5 754.0L522.8 754.7L523.0 758.0L526.0 760.3L527.4 763.9L531.4 765.5L532.8 766.2L532.8 767.5L535.5 768.8L539.5 771.3L539.2 772.6L535.5 770.4L534.1 772.9L535.7 775.1L534.1 776.7L532.8 778.3L531.9 778.3L532.2 775.8L532.8 773.6L531.4 771.6L528.7 769.7L526.0 768.1L522.8 766.2L519.3 763.9L517.4 761.6L516.6 759.0L513.3 757.7L511.2 759.3L509.3 760.0L505.8 762.0L502.5 761.0L499.0 761.3L497.9 763.9L498.2 766.2L495.0 767.8L491.7 769.4L489.6 772.6L489.0 775.1L490.1 776.1L488.2 777.7L487.4 779.5L484.7 781.4L483.3 782.0L477.4 782.3L475.0 784.2L472.8 783.3L472.0 781.4L469.3 781.1L465.8 781.4L465.8 776.7L463.9 776.1L465.2 772.0L466.1 768.8L465.5 765.5L464.7 762.3L467.9 760.0L473.3 760.3L478.7 761.0L484.1 761.3L486.0 759.0L486.3 754.0L485.5 751.3L483.3 748.9L481.4 747.2L477.4 745.8L476.9 744.1L481.4 742.7L485.2 743.1L484.7 739.9L486.0 739.9L489.6 740.6L493.6 738.2L494.1 735.3L496.3 734.6L499.0 733.6L500.9 731.4L502.2 727.8L504.4 726.7L508.5 725.9L512.0 724.8L513.3 724.1L512.8 720.4L511.7 716.6L511.7 712.7L515.2 712.0L517.9 710.0L517.4 714.7L518.7 715.8L516.6 718.5L515.7 720.4L516.6 722.2L519.3 724.1L522.0 723.3L526.0 722.6L528.2 724.5L532.8 723.0L538.2 721.1L540.0 722.6L542.7 722.6L546.3 720.4L546.3 716.6L546.3 712.7L548.1 710.4L550.3 710.0L553.0 712.7L555.2 712.0L555.4 707.7L553.0 706.1L553.0 704.1L557.1 702.9L562.5 702.9L565.2 702.1L569.2 700.9L566.5 698.5L562.5 698.9L557.1 700.1L551.7 701.3L550.3 699.7L547.1 697.7L547.6 693.5L547.1 690.6L549.0 687.2L553.0 683.4L557.1 679.9L557.9 677.2L554.4 676.3L549.8 676.8L547.6 679.9L546.3 684.2L542.2 687.2L538.2 690.6L536.3 694.8L536.0 698.5L539.5 700.1L540.9 701.7L538.2 704.9L534.9 706.9L534.1 710.8L532.8 714.7L532.2 716.2L528.7 716.6L527.9 718.8L524.7 718.8L523.8 716.6L522.0 711.6L520.1 706.9L518.7 703.7L517.9 701.7L515.2 704.9L511.7 708.5L508.5 708.9L504.9 706.5L503.6 702.9L503.1 698.9L503.1 694.8L503.6 691.9L507.1 689.3L512.5 686.4L516.6 684.2L519.3 680.8L522.8 677.7L524.7 673.2L527.4 669.6L530.1 666.4L532.8 662.6L536.8 660.2L540.9 657.9L546.3 656.9L551.7 654.5L558.4 652.0L563.8 652.0L567.9 653.5L573.3 655.4L570.6 658.3L576.0 658.3L580.0 659.8L586.8 660.7L593.5 664.5L598.9 667.3L600.8 671.9L597.6 674.6L592.2 675.0L585.4 673.2L580.0 672.3L577.3 670.5L578.7 674.1L582.7 677.7L583.5 682.1L586.8 684.2L590.8 685.1L592.2 682.5L588.1 679.9L592.2 679.9L597.6 681.2L598.4 677.7L603.0 673.7L608.4 675.5L608.9 670.9L607.8 665.0L613.8 665.0L612.4 667.7L615.1 671.4L618.4 669.6L624.6 666.4L632.7 664.0L636.7 665.4L643.5 663.6L648.9 662.1L652.9 658.3L654.3 657.9L663.7 660.2L667.8 661.7L673.2 665.0L675.9 662.6L671.8 658.8L670.5 653.0L671.8 649.5L675.9 643.0L678.6 640.4L684.0 643.0L686.1 649.5L684.8 656.9L685.6 662.1L688.3 666.4L686.1 671.9L690.7 667.3L690.7 661.7L688.8 655.9L690.2 648.0L693.4 646.0L697.5 647.0L700.2 650.5L704.2 647.0L706.9 641.9L712.3 652.0L715.0 648.5L711.8 644.0L706.9 639.3L716.4 637.8L724.5 636.7L724.5 630.8L732.6 628.1L743.4 625.4L754.2 624.2L762.3 620.9L771.2 616.3L775.8 618.6L779.8 621.4L789.3 622.0L796.0 625.9L796.0 628.7L786.6 635.1L778.5 640.4L786.6 637.8L794.7 637.8L801.4 638.3L809.5 640.9L813.6 641.9L821.7 641.9L829.8 639.3L835.2 641.9L839.2 644.5L839.2 652.0L844.6 652.5L848.7 649.5L855.4 649.0L860.8 650.5L866.2 649.0L867.6 644.5L873.0 643.5L881.1 645.0L889.2 645.5L894.6 648.5L900.0 652.5L909.4 652.0L917.5 653.0L921.6 656.9L924.3 659.3L931.0 658.3L939.1 659.3L944.5 656.9L949.9 660.2L951.3 656.9L956.7 657.9L964.8 658.3L971.5 659.8L975.6 661.7L981.0 664.0L986.4 666.8L991.8 669.6L997.2 671.9L1002.6 673.2ZM31.3 675.0L25.1 677.7L21.1 682.1L14.3 681.6L10.3 678.1L6.2 674.1L2.4 679.0L-3.3 681.2L0.8 684.2L1.6 688.5L1.3 691.5L-4.6 690.6L-11.4 693.5L-16.8 696.8L-22.2 700.9L-28.9 698.9L-34.3 700.9L-38.4 701.7L-41.6 704.9L-42.4 708.9L-45.1 709.6L-42.4 714.7L-43.8 715.8L-45.6 720.4L-49.7 723.0L-50.5 727.0L-54.0 727.8L-54.6 731.4L-59.1 735.0L-61.3 731.4L-62.4 725.9L-62.7 720.4L-62.1 714.7L-59.1 710.8L-54.6 707.7L-49.2 702.9L-45.1 698.9L-41.1 694.8L-39.7 690.6L-45.1 692.7L-50.5 694.8L-55.9 693.5L-60.0 696.8L-64.0 702.9L-69.4 704.9L-74.8 704.1L-80.2 702.9L-88.3 703.7L-96.4 703.7L-101.8 706.9L-108.6 712.7L-114.0 718.5L-116.7 721.8L-111.3 724.1L-108.6 724.8L-104.5 725.9L-101.3 727.8L-101.0 731.4L-103.2 735.0L-103.2 738.5L-103.7 743.8L-107.2 748.2L-109.9 752.3L-114.0 756.3L-118.0 760.6L-123.4 762.9L-126.1 761.6L-129.4 763.9L-132.1 767.2L-132.3 769.4L-137.5 772.0L-138.3 774.2L-136.1 776.7L-133.4 781.4L-132.9 784.5L-133.7 786.9L-136.9 787.6L-141.0 789.4L-141.5 786.0L-140.4 781.4L-142.3 778.9L-145.0 778.3L-144.2 773.6L-146.9 772.0L-151.8 770.4L-155.0 775.4L-153.7 769.4L-157.2 771.0L-161.2 774.5L-164.5 775.1L-162.6 778.3L-160.7 780.8L-156.4 778.9L-151.8 780.2L-152.0 781.7L-156.4 783.6L-157.7 784.5L-160.4 787.6L-158.5 789.7L-156.4 793.6L-153.7 797.2L-153.4 799.9L-155.8 801.7L-153.1 802.6L-154.2 806.4L-156.6 809.0L-159.1 812.8L-160.4 815.7L-163.4 818.6L-166.6 821.4L-170.7 823.7L-174.7 824.9L-177.4 825.7L-181.5 827.1L-184.2 828.0L-185.0 830.5L-186.1 827.4L-189.6 826.6L-193.6 828.5L-196.3 831.3L-197.1 834.2L-195.0 837.8L-192.3 841.1L-190.1 842.5L-188.2 846.6L-187.4 850.8L-187.7 853.5L-190.9 856.3L-193.6 857.9L-195.0 860.3L-199.0 862.8L-199.6 859.5L-200.9 857.6L-203.1 857.3L-205.0 854.1L-208.5 851.9L-210.1 849.7L-212.5 849.9L-212.5 853.5L-214.4 857.6L-213.9 861.2L-211.7 863.6L-209.8 867.4L-206.3 869.3L-203.9 872.6L-203.1 875.8L-202.5 879.3L-201.2 882.3L-203.6 882.0L-207.1 880.1L-209.0 878.2L-211.2 875.3L-211.7 870.4L-213.3 867.7L-216.3 863.9L-217.1 861.7L-216.3 857.6L-216.0 853.5L-217.4 849.4L-218.7 845.3L-219.0 841.4L-221.2 839.7L-224.7 842.8L-227.9 842.5L-227.4 838.3L-228.7 834.2L-230.6 831.3L-233.3 828.5L-234.7 824.9L-238.2 824.9L-240.9 826.3L-244.9 826.6L-247.6 827.4L-248.2 829.9L-251.7 832.2L-254.4 835.0L-257.6 838.3L-260.3 840.6L-263.8 842.5L-266.0 843.9L-266.3 848.0L-265.7 850.8L-266.8 853.5L-267.1 858.2L-268.7 860.9L-271.4 862.0L-273.3 864.2L-276.0 861.7L-277.3 857.6L-279.5 853.5L-280.8 849.4L-282.2 845.3L-284.1 841.1L-285.4 836.9L-286.0 833.6L-286.2 829.9L-286.5 827.7L-287.6 828.5L-290.8 829.1L-293.0 828.5L-296.2 825.1L-292.7 823.2L-297.3 822.0L-300.3 820.0L-301.6 817.4L-303.0 816.0L-308.4 816.6L-315.1 816.9L-320.5 816.3L-325.9 815.4L-328.6 812.2L-330.5 811.1L-334.8 812.5L-338.1 812.0L-340.8 809.9L-343.5 808.5L-345.4 805.5L-347.5 802.6L-350.2 801.4L-352.9 802.6L-352.9 804.6L-351.0 807.0L-350.8 809.3L-347.5 812.2L-347.0 814.8L-345.4 817.2L-344.3 814.0L-343.2 817.2L-342.7 819.4L-339.4 819.7L-335.4 819.2L-331.3 814.8L-330.3 813.4L-330.3 817.2L-329.2 819.4L-324.6 821.2L-321.1 824.3L-322.2 827.4L-324.6 829.9L-326.5 834.2L-330.0 836.9L-334.0 839.7L-339.4 841.1L-342.1 843.6L-348.9 846.4L-354.3 848.6L-359.7 850.8L-363.7 851.6L-365.6 851.3L-366.4 848.0L-367.2 843.9L-367.8 840.3L-370.5 836.9L-373.2 832.8L-375.9 829.9L-377.2 825.7L-378.6 821.4L-381.8 817.2L-384.0 813.7L-387.2 808.5L-388.3 804.4L-389.9 808.8L-392.1 807.0L-394.5 802.9L-394.3 805.5L-392.1 808.5L-390.7 811.4L-389.4 815.1L-386.7 820.0L-386.2 822.9L-383.2 825.7L-382.1 828.5L-381.8 832.8L-379.1 836.1L-377.2 840.3L-375.6 843.9L-372.4 845.8L-369.1 849.4L-366.2 852.1L-365.6 854.9L-362.4 857.6L-358.3 856.8L-352.9 855.7L-347.5 854.6L-344.3 853.8L-344.8 857.6L-346.2 861.7L-348.9 867.1L-351.6 872.6L-355.6 877.2L-359.7 880.7L-363.7 883.4L-367.8 887.4L-370.5 890.9L-373.2 893.6L-375.1 896.9L-376.7 900.9L-377.2 903.6L-375.9 906.4L-376.4 910.4L-374.5 914.0L-373.2 917.3L-373.2 921.4L-372.6 926.3L-374.5 930.2L-378.6 933.2L-382.6 935.8L-384.8 938.0L-388.0 940.8L-387.2 945.0L-386.7 949.3L-387.2 952.7L-392.1 955.9L-394.0 957.6L-393.7 960.8L-394.8 965.1L-397.5 968.1L-399.4 971.0L-401.5 974.0L-404.8 977.0L-408.3 979.4L-412.3 980.9L-415.0 981.5L-419.1 981.8L-423.1 982.1L-428.5 984.0L-431.8 982.4L-433.1 980.9L-433.9 977.9L-433.4 974.9L-435.8 971.0L-437.2 966.6L-439.9 963.1L-442.0 959.3L-442.9 955.0L-443.7 949.3L-443.4 946.4L-446.1 942.2L-448.8 937.4L-450.7 933.8L-450.7 929.6L-449.3 925.5L-447.4 921.4L-445.3 917.3L-446.1 913.2L-447.4 909.9L-449.3 905.0L-449.6 902.3L-450.1 899.6L-452.0 896.9L-455.0 894.2L-457.4 891.5L-458.2 888.8L-457.4 885.5L-456.6 882.8L-456.1 879.3L-456.1 876.6L-458.2 874.5L-459.6 873.6L-463.6 874.2L-466.3 874.5L-468.2 871.7L-470.4 869.0L-474.4 868.8L-478.5 869.3L-481.2 870.4L-485.3 872.0L-489.3 872.6L-493.4 872.0L-497.4 872.3L-502.8 874.2L-506.9 872.0L-510.9 868.5L-513.6 867.1L-516.3 865.0L-518.5 862.2L-519.0 859.5L-521.7 857.6L-523.1 856.3L-525.8 853.5L-527.9 850.8L-527.6 848.0L-529.8 846.1L-527.9 843.9L-526.6 841.1L-526.0 836.9L-526.6 832.8L-528.5 828.5L-527.1 824.9L-525.8 820.9L-523.1 818.0L-521.7 814.3L-519.0 811.4L-517.7 809.0L-513.6 807.6L-509.6 804.6L-508.7 801.1L-509.0 798.1L-506.9 795.1L-504.2 792.4L-501.5 790.6L-499.3 787.6L-498.5 785.1L-496.9 784.8L-494.7 786.9L-490.7 786.6L-488.0 787.3L-485.3 785.4L-482.6 784.8L-478.5 782.9L-474.4 782.0L-469.0 782.0L-463.6 781.4L-458.8 781.7L-455.5 780.5L-452.8 781.4L-454.2 784.5L-453.4 787.6L-455.0 789.7L-454.2 791.8L-452.3 793.0L-448.8 794.2L-444.7 794.5L-441.2 795.7L-440.7 798.1L-436.6 799.6L-432.6 801.7L-429.9 801.1L-428.5 799.6L-428.5 796.6L-424.5 794.2L-420.4 794.8L-417.7 796.6L-414.5 797.8L-409.6 798.7L-404.2 799.9L-400.2 798.4L-397.5 798.1L-395.3 799.0L-392.1 799.3L-389.9 798.7L-388.6 796.0L-388.0 793.6L-386.4 790.6L-385.6 786.9L-385.3 784.5L-384.8 782.3L-386.7 782.6L-389.4 782.3L-392.1 784.2L-394.8 784.2L-398.8 782.0L-400.2 783.6L-402.9 783.9L-406.1 782.3L-408.8 782.0L-408.8 778.9L-411.0 777.3L-410.2 774.5L-411.8 773.2L-411.8 771.6L-408.3 770.7L-404.2 770.4L-404.2 768.4L-406.9 768.8L-409.6 770.0L-411.8 770.0L-412.3 769.1L-415.0 769.1L-417.7 769.4L-418.6 771.3L-416.9 771.6L-420.4 771.0L-421.5 770.4L-421.5 773.6L-420.4 774.5L-419.1 776.7L-417.7 777.7L-417.7 779.2L-419.9 778.6L-420.4 780.2L-419.9 782.9L-421.8 782.9L-424.0 782.0L-425.0 779.5L-424.5 777.3L-425.8 775.4L-427.7 773.6L-430.2 770.4L-429.9 766.5L-432.6 763.9L-436.6 761.6L-440.7 759.0L-443.4 755.0L-445.6 754.0L-449.3 754.7L-449.1 758.0L-446.1 760.3L-444.7 763.9L-440.7 765.5L-439.3 766.2L-439.3 767.5L-436.6 768.8L-432.6 771.3L-432.9 772.6L-436.6 770.4L-438.0 772.9L-436.4 775.1L-438.0 776.7L-439.3 778.3L-440.2 778.3L-439.9 775.8L-439.3 773.6L-440.7 771.6L-443.4 769.7L-446.1 768.1L-449.3 766.2L-452.8 763.9L-454.7 761.6L-455.5 759.0L-458.8 757.7L-460.9 759.3L-462.8 760.0L-466.3 762.0L-469.6 761.0L-473.1 761.3L-474.2 763.9L-473.9 766.2L-477.1 767.8L-480.4 769.4L-482.6 772.6L-483.1 775.1L-482.0 776.1L-483.9 777.7L-484.7 779.5L-487.4 781.4L-488.8 782.0L-494.7 782.3L-497.1 784.2L-499.3 783.3L-500.1 781.4L-502.8 781.1L-506.3 781.4L-506.3 776.7L-508.2 776.1L-506.9 772.0L-506.0 768.8L-506.6 765.5L-507.4 762.3L-504.2 760.0L-498.8 760.3L-493.4 761.0L-488.0 761.3L-486.1 759.0L-485.8 754.0L-486.6 751.3L-488.8 748.9L-490.7 747.2L-494.7 745.8L-495.2 744.1L-490.7 742.7L-486.9 743.1L-487.4 739.9L-486.1 739.9L-482.6 740.6L-478.5 738.2L-478.0 735.3L-475.8 734.6L-473.1 733.6L-471.2 731.4L-469.9 727.8L-467.7 726.7L-463.6 725.9L-460.1 724.8L-458.8 724.1L-459.3 720.4L-460.4 716.6L-460.4 712.7L-456.9 712.0L-454.2 710.0L-454.7 714.7L-453.4 715.8L-455.5 718.5L-456.4 720.4L-455.5 722.2L-452.8 724.1L-450.1 723.3L-446.1 722.6L-443.9 724.5L-439.3 723.0L-433.9 721.1L-432.1 722.6L-429.4 722.6L-425.8 720.4L-425.8 716.6L-425.8 712.7L-424.0 710.4L-421.8 710.0L-419.1 712.7L-416.9 712.0L-416.7 707.7L-419.1 706.1L-419.1 704.1L-415.0 702.9L-409.6 702.9L-406.9 702.1L-402.9 700.9L-405.6 698.5L-409.6 698.9L-415.0 700.1L-420.4 701.3L-421.8 699.7L-425.0 697.7L-424.5 693.5L-425.0 690.6L-423.1 687.2L-419.1 683.4L-415.0 679.9L-414.2 677.2L-417.7 676.3L-422.3 676.8L-424.5 679.9L-425.8 684.2L-429.9 687.2L-433.9 690.6L-435.8 694.8L-436.1 698.5L-432.6 700.1L-431.2 701.7L-433.9 704.9L-437.2 706.9L-438.0 710.8L-439.3 714.7L-439.9 716.2L-443.4 716.6L-444.2 718.8L-447.4 718.8L-448.3 716.6L-450.1 711.6L-452.0 706.9L-453.4 703.7L-454.2 701.7L-456.9 704.9L-460.4 708.5L-463.6 708.9L-467.2 706.5L-468.5 702.9L-469.0 698.9L-469.0 694.8L-468.5 691.9L-465.0 689.3L-459.6 686.4L-455.5 684.2L-452.8 680.8L-449.3 677.7L-447.4 673.2L-444.7 669.6L-442.0 666.4L-439.3 662.6L-435.3 660.2L-431.2 657.9L-425.8 656.9L-420.4 654.5L-413.7 652.0L-408.3 652.0L-404.2 653.5L-398.8 655.4L-401.5 658.3L-396.1 658.3L-392.1 659.8L-385.3 660.7L-378.6 664.5L-373.2 667.3L-371.3 671.9L-374.5 674.6L-379.9 675.0L-386.7 673.2L-392.1 672.3L-394.8 670.5L-393.4 674.1L-389.4 677.7L-388.6 682.1L-385.3 684.2L-381.3 685.1L-379.9 682.5L-384.0 679.9L-379.9 679.9L-374.5 681.2L-373.7 677.7L-369.1 673.7L-363.7 675.5L-363.2 670.9L-364.3 665.0L-358.3 665.0L-359.7 667.7L-357.0 671.4L-353.7 669.6L-347.5 666.4L-339.4 664.0L-335.4 665.4L-328.6 663.6L-323.2 662.1L-319.2 658.3L-317.8 657.9L-308.4 660.2L-304.3 661.7L-298.9 665.0L-296.2 662.6L-300.3 658.8L-301.6 653.0L-300.3 649.5L-296.2 643.0L-293.5 640.4L-288.1 643.0L-286.0 649.5L-287.3 656.9L-286.5 662.1L-283.8 666.4L-286.0 671.9L-281.4 667.3L-281.4 661.7L-283.3 655.9L-281.9 648.0L-278.7 646.0L-274.6 647.0L-271.9 650.5L-267.9 647.0L-265.2 641.9L-259.8 652.0L-257.1 648.5L-260.3 644.0L-265.2 639.3L-255.7 637.8L-247.6 636.7L-247.6 630.8L-239.5 628.1L-228.7 625.4L-217.9 624.2L-209.8 620.9L-200.9 616.3L-196.3 618.6L-192.3 621.4L-182.8 622.0L-176.1 625.9L-176.1 628.7L-185.5 635.1L-193.6 640.4L-185.5 637.8L-177.4 637.8L-170.7 638.3L-162.6 640.9L-158.5 641.9L-150.4 641.9L-142.3 639.3L-136.9 641.9L-132.9 644.5L-132.9 652.0L-127.5 652.5L-123.4 649.5L-116.7 649.0L-111.3 650.5L-105.9 649.0L-104.5 644.5L-99.1 643.5L-91.0 645.0L-82.9 645.5L-77.5 648.5L-72.1 652.5L-62.7 652.0L-54.6 653.0L-50.5 656.9L-47.8 659.3L-41.1 658.3L-33.0 659.3L-27.6 656.9L-22.2 660.2L-20.8 656.9L-15.4 657.9L-7.3 658.3L-0.6 659.8L3.5 661.7L8.9 664.0L14.3 666.8L19.7 669.6L25.1 671.9L30.5 673.2ZM474.2 738.2L477.4 737.5L480.1 737.1L481.4 736.1L484.7 736.1L486.8 735.7L490.4 735.7L493.1 734.6L493.3 733.6L490.9 733.2L492.3 732.1L494.1 729.6L493.6 728.1L490.4 728.1L490.4 725.9L489.0 724.1L488.2 722.2L486.0 720.4L485.0 717.7L482.8 716.6L480.6 716.6L482.3 715.0L483.9 712.7L484.7 710.8L481.4 710.0L478.7 710.4L480.1 708.9L481.4 706.5L476.0 706.5L474.7 709.6L473.9 712.7L472.8 713.9L474.7 716.6L474.7 719.2L476.6 718.5L476.0 721.1L480.1 720.7L480.6 723.0L481.7 724.5L481.4 726.3L477.4 726.3L477.4 728.5L478.2 730.3L475.5 731.8L477.9 732.8L480.9 733.6L481.4 734.3L477.9 734.3L475.5 737.5ZM472.3 730.7L472.5 726.7L473.3 724.1L474.7 722.2L473.3 719.6L469.3 719.2L466.6 721.8L466.6 723.0L462.5 723.3L463.1 726.3L464.4 727.4L463.9 729.2L461.7 731.0L463.1 732.8L466.6 732.8L469.3 731.4ZM523.0 778.3L526.0 777.7L531.7 777.3L530.6 781.4L528.7 782.3L524.7 780.5L523.0 779.2ZM511.7 769.1L514.7 768.1L516.0 770.4L515.5 774.5L513.6 775.4L512.2 774.2L512.5 771.0ZM512.8 764.6L514.9 762.3L515.2 765.5L514.4 767.5L513.3 766.8ZM553.0 786.0L555.7 785.7L560.6 786.6L558.4 787.6L555.7 787.9L553.3 786.9ZM576.8 787.6L580.0 786.3L583.0 785.4L581.4 787.6L578.7 788.8ZM496.0 773.2L498.2 772.3L498.7 773.6L497.1 774.2ZM538.7 712.7L540.9 709.2L540.3 711.6L539.0 713.1ZM519.3 717.7L523.3 716.2L523.6 719.2L521.1 720.7L519.3 719.6ZM517.9 608.6L522.0 603.8L532.8 602.6L538.2 605.0L543.6 601.3L554.4 600.1L562.5 602.0L557.1 606.2L546.3 609.8L550.3 615.7L538.2 621.4L534.1 622.6L530.1 618.6L526.0 614.6L520.6 611.6ZM544.9 611.6L549.0 611.0L554.4 613.4L553.0 617.5L547.6 618.0L545.7 615.1ZM611.1 598.8L619.2 597.0L627.3 597.6L624.6 601.3L616.5 602.0ZM632.7 599.5L643.5 596.3L651.6 597.0L657.0 594.4L665.1 596.3L657.0 599.5L646.2 601.3L638.1 602.0ZM628.9 647.0L634.6 637.2L644.5 628.7L658.9 623.1L673.2 619.2L676.1 622.0L664.8 627.6L653.2 633.0L646.2 639.9L641.8 650.0L644.3 653.5L636.2 653.0L631.3 651.0ZM747.4 607.4L754.2 602.6L751.5 596.3L759.6 595.1L767.7 599.5L773.1 605.6L773.1 612.2L765.0 615.1L758.2 614.6L759.6 609.8L751.5 609.8ZM859.5 629.2L867.6 625.4L878.4 627.6L889.2 629.8L895.9 630.3L891.9 632.5L881.1 633.0L873.0 632.5L867.6 631.9L862.2 632.5ZM867.6 637.2L873.0 637.2L877.0 640.4L870.3 641.4L867.0 639.9ZM971.8 651.0L975.6 649.3L981.0 650.0L982.4 652.0L977.0 653.0L972.9 652.5ZM-0.3 651.0L3.5 649.3L8.9 650.0L10.3 652.0L4.9 653.0L0.8 652.5ZM620.0 660.2L623.2 659.3L625.4 661.7L621.9 663.1ZM647.5 655.9L651.6 655.0L651.6 658.3L648.9 658.3ZM873.0 723.0L875.7 725.9L876.5 729.6L876.2 735.0L878.4 740.3L875.7 742.0L874.9 747.2L877.0 749.6L876.8 752.3L874.3 750.3L873.3 752.7L873.0 747.2L873.5 742.0L873.0 736.8L872.2 731.4L872.4 726.7ZM867.6 767.2L868.4 764.9L867.0 763.3L868.9 761.3L871.1 761.3L872.2 757.3L872.4 754.0L875.7 757.3L879.7 759.0L882.4 759.0L882.4 761.3L878.4 762.6L876.5 765.5L872.4 763.6L870.3 764.6L870.3 766.5ZM870.0 767.2L871.6 770.4L873.0 773.6L871.6 777.3L870.3 779.8L869.7 782.9L869.7 785.4L867.6 787.6L866.8 786.6L864.9 787.6L864.1 788.5L862.2 788.8L859.5 788.8L858.9 789.7L856.8 792.1L854.4 790.6L854.1 788.8L851.4 788.8L848.7 789.7L846.0 790.9L843.3 790.6L843.0 789.4L846.0 786.9L848.7 785.7L852.7 785.7L855.4 785.7L856.8 783.9L858.9 781.4L860.3 779.8L860.0 782.0L863.5 780.2L866.2 777.7L867.3 774.5L867.6 772.0L867.6 769.7L868.4 768.1ZM843.0 790.9L845.2 791.8L846.0 794.2L844.6 797.2L843.3 798.7L842.5 799.6L841.1 798.7L841.1 795.7L839.8 794.5L840.0 792.7L841.7 791.8ZM847.3 791.5L850.0 789.7L853.0 790.0L853.3 791.2L851.9 792.7L849.2 793.3L848.1 794.2L847.1 792.7ZM816.3 816.9L818.7 817.2L817.6 821.4L816.0 825.7L814.1 823.4L814.1 820.6L815.5 818.3ZM783.1 833.3L785.8 831.3L789.0 831.3L789.3 832.8L787.4 835.3L785.2 836.4L783.1 835.3ZM815.2 835.6L819.0 835.6L819.8 838.9L817.9 842.5L817.6 845.8L819.8 847.5L822.5 848.3L824.4 850.8L823.8 851.9L821.7 849.9L819.5 849.1L817.6 849.1L815.5 848.3L815.2 846.6L813.6 845.3L813.3 841.9L814.7 840.3L814.7 838.1ZM819.0 867.1L820.3 864.4L823.0 862.8L825.7 863.1L828.4 859.8L830.6 861.7L831.1 865.8L830.3 869.0L828.4 870.9L827.6 868.5L824.9 869.0L824.4 866.3L822.5 865.8L819.8 867.4ZM825.2 852.1L827.9 852.1L829.0 855.7L827.1 858.4L826.0 856.8L826.5 854.9ZM819.0 854.1L821.7 854.9L820.6 857.6L819.0 857.6ZM820.6 856.8L823.0 856.5L824.1 859.0L822.2 861.2L820.3 859.8ZM806.3 863.1L809.5 859.5L812.2 855.4L812.2 857.6L809.0 861.7ZM814.7 849.7L817.1 849.9L817.6 852.1L816.3 853.0ZM783.9 882.0L785.5 880.7L787.9 881.5L790.1 879.9L790.6 878.5L794.7 877.4L797.4 873.9L801.4 871.7L804.7 867.4L806.3 869.0L807.4 870.1L811.4 872.0L809.0 874.5L807.4 876.6L807.9 880.7L810.9 883.4L807.6 883.9L806.8 888.0L804.1 890.1L803.6 894.2L802.8 896.3L799.0 896.9L797.4 895.3L794.7 894.7L791.4 895.5L787.4 894.2L786.6 890.1L784.4 887.7L783.9 885.3ZM746.9 870.9L751.5 872.0L755.0 874.7L759.0 878.0L761.7 880.1L765.0 883.4L769.0 886.1L770.4 888.8L771.7 891.5L775.8 894.2L775.2 901.8L772.0 901.8L769.0 899.0L765.8 896.9L762.3 893.6L760.4 888.8L756.9 884.7L755.5 881.2L752.3 878.0L748.8 874.7L746.6 872.6ZM773.6 904.5L775.8 902.0L778.5 902.3L782.5 903.6L787.9 903.6L789.3 903.4L793.9 905.0L798.7 906.9L798.5 909.3L793.3 908.8L787.9 908.3L782.5 907.2L777.1 906.1ZM798.7 908.3L801.7 908.3L800.9 909.9L799.0 909.3ZM802.8 908.5L804.7 908.8L804.1 910.2L802.8 909.9ZM804.9 909.1L808.2 908.3L810.9 909.1L809.5 909.9L805.5 910.4ZM813.3 908.8L817.6 909.1L821.4 908.3L821.1 909.6L816.3 910.2L813.3 909.9ZM810.9 911.8L814.1 911.5L815.7 913.2L812.2 913.7ZM823.0 914.0L827.1 911.3L832.5 908.8L833.0 909.9L828.4 912.1L824.4 914.0ZM810.9 895.5L810.3 893.6L811.7 890.1L813.0 886.6L813.6 884.2L816.3 882.6L820.3 883.4L824.4 883.4L827.6 881.8L825.7 885.0L821.7 884.7L817.6 884.7L814.4 886.1L813.6 888.5L816.3 888.8L819.0 888.5L822.5 888.5L821.7 890.7L818.2 891.2L817.6 893.6L819.8 895.0L821.4 897.4L820.3 900.4L818.4 899.0L817.1 896.3L816.0 893.4L814.7 894.2L814.7 900.9L812.2 900.9L812.2 898.2ZM833.8 881.2L835.2 880.1L837.1 882.0L835.2 884.7L836.5 887.4L834.6 888.2L834.4 884.7ZM835.2 894.2L839.2 893.6L842.7 895.5L839.2 895.5L835.2 895.3ZM829.8 894.7L832.5 894.7L832.5 896.3L829.8 896.1ZM843.3 888.2L847.3 887.2L851.4 888.2L851.9 891.5L854.1 895.0L856.8 892.0L860.8 890.1L864.9 891.5L870.3 893.1L874.3 895.0L879.7 896.6L883.3 899.6L886.5 902.0L888.7 903.6L886.5 904.5L888.7 907.4L890.5 910.4L893.2 912.6L895.9 914.3L894.1 914.5L889.2 913.7L886.0 911.8L883.8 908.3L879.7 906.6L876.5 908.5L874.3 911.0L870.3 910.7L866.2 908.0L862.2 908.5L864.3 905.0L862.2 900.9L856.8 898.5L852.7 896.9L848.7 896.9L848.1 895.0L846.0 893.6L850.0 892.8L848.7 892.0L846.0 891.5L843.3 889.9ZM890.5 900.9L894.6 899.6L898.6 897.4L900.8 897.7L900.0 900.9L895.9 903.1L891.9 902.8ZM896.8 893.1L900.0 895.0L902.7 898.2L901.9 898.5L898.6 895.0ZM907.3 900.9L909.4 902.3L910.5 904.5L908.6 903.6ZM912.1 904.5L914.8 906.1L914.3 906.9L912.1 905.5ZM920.2 911.3L922.9 911.8L923.8 912.9L920.8 912.6ZM923.8 909.1L925.1 911.3L924.3 911.5L923.2 909.3ZM925.1 914.0L927.8 914.8L927.0 915.3L925.1 914.8ZM932.4 941.4L936.4 943.6L940.5 947.3L938.6 947.0L933.7 943.6ZM939.4 926.9L941.0 927.4L941.0 928.8L939.7 928.5ZM943.7 933.8L944.8 934.1L944.5 934.9L943.7 934.6ZM968.3 933.8L971.8 933.5L971.8 935.8L968.6 935.8ZM972.1 931.0L975.6 930.2L975.6 931.6L972.4 932.1ZM705.0 860.1L706.4 859.5L709.1 863.1L710.7 867.1L709.1 869.3L706.1 869.9L705.0 867.1L705.0 863.1ZM622.7 918.6L625.1 922.7L625.9 928.3L624.0 931.0L623.2 935.2L621.3 940.8L619.2 947.9L617.0 954.4L612.4 956.4L608.4 955.0L607.0 950.7L606.5 946.4L609.2 940.8L608.4 935.2L609.7 930.2L613.8 928.8L617.8 926.3L619.2 923.3L621.3 920.0ZM796.0 946.4L797.4 945.9L800.1 943.6L804.9 942.2L810.9 940.8L816.3 939.7L819.8 935.2L819.5 932.4L823.0 933.2L823.3 930.5L827.1 928.3L829.8 924.1L833.8 924.1L836.5 926.6L839.8 926.6L839.2 922.7L841.9 920.0L844.6 919.2L847.3 918.9L848.1 917.0L851.4 918.4L855.4 918.9L858.9 919.2L858.1 922.7L856.2 926.3L859.5 929.1L864.9 931.9L866.2 933.8L869.7 933.8L871.6 928.3L871.9 922.7L872.4 918.6L874.3 915.1L877.0 920.0L877.0 924.1L881.1 926.6L882.4 931.0L883.8 935.2L885.1 938.0L889.2 940.8L892.7 945.0L896.5 947.9L897.3 951.6L901.3 955.0L903.2 959.3L904.0 965.1L902.7 971.0L901.3 975.5L898.6 980.0L896.8 984.6L894.6 989.2L894.6 992.3L890.5 993.6L886.5 995.4L884.6 997.3L881.1 995.1L879.7 993.9L877.0 996.4L871.6 994.8L867.6 992.3L866.2 987.7L863.5 986.4L862.2 983.1L861.6 978.5L860.8 981.5L858.9 986.1L856.8 984.0L855.4 983.1L854.1 980.0L851.4 977.9L847.3 975.5L843.3 974.0L837.9 974.3L832.5 976.1L828.4 977.6L824.4 980.0L821.7 981.2L817.6 980.9L813.6 981.2L809.5 983.4L806.8 984.9L802.8 984.3L800.1 982.4L800.1 980.0L802.0 977.0L801.4 972.5L800.1 969.6L798.7 965.1L797.4 962.2L796.0 957.9L796.0 955.0L796.8 950.7ZM880.3 1002.4L885.1 1003.7L890.0 1003.1L890.0 1006.6L888.7 1010.5L885.1 1011.8L882.4 1009.9L881.6 1006.6ZM955.9 982.8L958.0 984.6L960.7 987.7L963.4 989.5L964.8 992.6L968.8 992.9L971.5 992.9L970.2 996.4L967.5 998.0L967.5 1000.2L965.6 1003.4L962.9 1005.3L961.3 1004.3L962.1 1001.1L960.2 998.9L958.9 998.0L961.3 995.4L961.6 992.3L960.2 989.5L957.5 986.1ZM955.9 1001.8L959.9 1004.0L959.9 1006.0L958.0 1009.2L956.2 1011.8L952.6 1014.1L951.3 1017.5L949.9 1019.8L947.2 1021.9L944.0 1021.9L941.3 1020.5L939.1 1019.2L941.3 1015.8L944.5 1013.2L948.6 1009.9L952.1 1007.3L954.0 1003.4ZM675.3 1030.1L679.4 1030.1L679.4 1032.2L675.9 1032.2ZM638.9 943.3L640.2 943.6L640.0 944.5L638.9 944.2ZM644.5 940.8L645.6 941.1L645.4 942.2L644.5 941.9ZM633.7 851.9L636.4 851.9L636.4 852.7L633.7 852.7ZM443.9 807.3L445.8 807.0L445.5 808.2L444.2 808.5ZM446.9 808.2L448.0 808.2L448.0 809.0L446.9 809.0ZM450.9 806.7L452.3 806.4L452.0 808.2L450.7 808.2ZM419.9 778.6L421.5 778.6L421.5 779.2L419.9 779.2ZM425.3 844.4L426.4 844.4L426.4 845.5L425.3 845.5ZM469.8 691.5L471.7 691.5L471.7 693.1L469.8 693.1ZM883.8 757.7L887.8 755.0L890.5 754.0L886.5 757.0ZM893.2 753.0L895.4 751.6L895.4 752.3L893.5 753.7ZM900.0 748.9L902.7 745.8L903.2 746.5L900.5 749.3ZM908.1 740.3L910.8 736.8L911.6 737.5L908.9 740.6ZM930.5 706.9L933.2 704.1L933.7 705.7L931.3 707.3ZM739.9 849.4L740.7 849.7L740.7 854.3L739.6 854.1ZM773.6 890.4L776.3 890.9L777.7 893.1L775.8 894.2L774.2 892.0Z"/>
<path id="seas" d="M565.2 765.9L564.3 763.6L565.7 760.6L567.0 758.0L569.7 755.0L571.4 752.3L573.3 750.3L576.0 751.3L580.0 752.0L578.7 754.7L580.0 757.3L584.1 756.3L588.1 754.7L584.9 751.3L588.1 749.9L592.2 748.6L595.7 748.2L593.5 751.6L590.8 754.0L589.5 755.7L593.5 758.0L596.8 760.6L601.6 763.9L601.9 766.8L597.6 768.8L593.5 768.8L588.1 767.8L584.1 765.5L580.0 765.5L574.6 767.8L569.2 768.1ZM616.5 756.7L619.2 752.3L623.2 750.6L627.3 749.6L631.3 750.6L632.7 754.7L630.0 755.7L627.3 757.3L625.4 758.3L627.8 761.6L631.3 762.9L632.1 767.2L634.6 769.4L632.4 772.0L634.0 774.2L634.8 779.8L634.0 781.7L630.0 782.3L625.9 780.5L621.9 777.3L621.6 774.2L623.2 771.0L621.9 767.8L619.2 765.5L617.8 762.3L616.5 759.7ZM647.5 750.6L654.3 750.6L655.6 755.7L651.6 759.7L647.5 760.0L647.0 755.7Z"/>
<path id="lakes" d="M157.4 675.5L162.8 671.4L168.2 671.9L171.5 674.1L168.2 677.7L162.8 679.0L158.8 678.6ZM173.6 696.8L179.0 694.8L184.4 691.9L189.8 689.3L193.9 689.8L188.5 692.7L183.1 695.6L177.7 697.7ZM189.0 706.1L195.2 702.9L203.3 703.3L197.9 704.9L192.5 706.1ZM211.4 709.2L214.1 708.9L214.7 713.5L212.2 713.5ZM223.6 724.8L226.3 725.9L228.2 731.4L229.5 736.8L227.6 737.1L226.3 733.2L223.6 729.6L222.2 726.7ZM218.7 727.8L220.9 729.6L223.6 735.0L224.1 737.5L222.2 735.7L220.1 732.1ZM241.1 749.9L245.2 747.2L249.2 745.5L251.9 742.7L257.3 743.1L260.6 746.2L261.4 750.3L257.3 750.3L253.3 750.6L250.6 748.2L246.5 750.3ZM252.5 765.5L253.3 766.5L256.0 765.5L256.8 760.6L257.3 756.3L260.0 753.0L257.3 752.7L254.6 754.0L251.9 757.0L253.0 760.6ZM261.4 752.3L265.4 751.6L269.5 752.3L273.5 754.7L273.5 757.0L269.5 757.3L268.9 761.3L266.8 762.3L265.4 759.0L263.3 760.0L264.3 755.7L261.4 753.3ZM264.3 766.2L269.5 763.6L276.2 762.9L273.5 764.9L268.1 767.2ZM274.1 761.3L278.9 759.3L283.5 758.7L283.5 760.6L278.9 761.3ZM296.5 671.9L300.5 672.3L299.7 674.6L297.0 674.6ZM688.0 750.6L692.1 749.6L697.5 750.3L702.9 750.6L700.2 751.6L692.1 754.0L689.4 755.0ZM769.6 732.8L773.1 729.6L778.5 726.7L783.9 721.1L786.3 717.7L784.7 724.1L781.2 727.8L775.8 731.4L771.7 733.2ZM571.9 697.7L574.6 694.0L578.7 696.8L577.3 700.1L573.3 701.3ZM582.7 690.6L585.4 689.8L586.8 694.8L584.1 696.8ZM523.3 706.9L526.0 704.1L527.4 706.1L524.7 707.3ZM575.4 888.8L577.3 885.3L581.4 885.3L581.9 888.8L580.0 892.8L576.0 892.8ZM568.4 895.5L570.0 898.2L571.9 903.6L573.8 909.6L571.9 908.5L569.2 902.3L568.4 898.2ZM581.4 911.8L583.0 915.9L584.1 920.0L584.6 924.9L583.0 924.1L581.9 918.6L581.4 914.5ZM586.8 873.9L588.1 876.6L587.3 879.3L586.2 876.6ZM300.5 928.3L302.4 928.8L303.8 930.7L301.9 930.2ZM695.3 763.9L698.8 763.3L701.0 764.2L697.5 765.2Z"/>
<clipPath id="landclip"><use href="#land"/></clipPath>
</defs>
<rect x="3.5" y="529.7" width="972.1" height="540.1" fill="#e6e6e6"/>
<g clip-path="url(#mapclip)">
<use href="#land" fill="#fff"/>
<g clip-path="url(#landclip)" shape-rendering="crispEdges">
<rect x="3.50" y="529.70" width="972.40" height="17.07" fill="#6b6b6b"/>
<rect x="3.50" y="546.47" width="972.40" height="15.80" fill="#6b6b6b"/>
<rect x="3.50" y="561.97" width="972.40" height="14.72" fill="#6b6b6b"/>
<rect x="3.50" y="576.39" width="340.54" height="13.79" fill="#6b6b6b"/>
<rect x="413.94" y="576.39" width="561.96" height="13.79" fill="#6b6b6b"/>
<rect x="3.50" y="589.89" width="259.53" height="12.99" fill="#6b6b6b"/>
<rect x="295.13" y="589.89" width="48.91" height="12.99" fill="#6b6b6b"/>
<rect x="413.94" y="589.89" width="16.50" height="12.99" fill="#6b6b6b"/>
<rect x="440.95" y="589.89" width="534.96" height="12.99" fill="#6b6b6b"/>
<rect x="3.50" y="602.57" width="340.54" height="12.28" fill="#6b6b6b"/>
<rect x="413.94" y="602.57" width="561.96" height="12.28" fill="#6b6b6b"/>
<rect x="3.50" y="614.56" width="210.92" height="11.66" fill="#6b6b6b"/>
<rect x="224.92" y="614.56" width="16.50" height="11.66" fill="#6b6b6b"/>
<rect x="246.53" y="614.56" width="59.71" height="11.66" fill="#6b6b6b"/>
<rect x="311.33" y="614.56" width="32.70" height="11.66" fill="#6b6b6b"/>
<rect x="413.94" y="614.56" width="561.96" height="11.66" fill="#6b6b6b"/>
<rect x="3.50" y="625.91" width="248.73" height="11.10" fill="#6b6b6b"/>
<rect x="268.13" y="625.91" width="70.51" height="11.10" fill="#6b6b6b"/>
<rect x="419.34" y="625.91" width="437.75" height="11.10" fill="#6b6b6b"/>
<rect x="899.99" y="625.91" width="75.91" height="11.10" fill="#6b6b6b"/>
<rect x="3.50" y="636.72" width="335.13" height="10.61" fill="#6b6b6b"/>
<rect x="403.14" y="636.72" width="11.10" height="10.61" fill="#6b6b6b"/>
<rect x="419.34" y="636.72" width="437.75" height="10.61" fill="#6b6b6b"/>
<rect x="899.99" y="636.72" width="75.91" height="10.61" fill="#6b6b6b"/>
<rect x="3.50" y="647.03" width="335.13" height="10.16" fill="#6b6b6b"/>
<rect x="403.14" y="647.03" width="11.10" height="10.16" fill="#6b6b6b"/>
<rect x="419.34" y="647.03" width="43.50" height="10.16" fill="#6b6b6b"/>
<rect x="462.55" y="647.03" width="38.10" height="10.16" fill="#4575b4"/>
<rect x="500.35" y="647.03" width="475.55" height="10.16" fill="#6b6b6b"/>
<rect x="3.50" y="656.89" width="351.34" height="9.76" fill="#6b6b6b"/>
<rect x="403.14" y="656.89" width="11.10" height="9.76" fill="#6b6b6b"/>
<rect x="419.34" y="656.89" width="43.50" height="9.76" fill="#6b6b6b"/>
<rect x="462.55" y="656.89" width="38.10" height="9.76" fill="#4575b4"/>
<rect x="500.35" y="656.89" width="475.55" height="9.76" fill="#6b6b6b"/>
<rect x="3.50" y="666.36" width="54.31" height="9.40" fill="#6b6b6b"/>
<rect x="57.51" y="666.36" width="48.91" height="9.40" fill="#4575b4"/>
<rect x="106.11" y="666.36" width="27.30" height="9.40" fill="#6b6b6b"/>
<rect x="133.11" y="666.36" width="11.10" height="9.40" fill="#4575b4"/>
<rect x="143.91" y="666.36" width="216.32" height="9.40" fill="#6b6b6b"/>
<rect x="403.14" y="666.36" width="27.30" height="9.40" fill="#6b6b6b"/>
<rect x="430.14" y="666.36" width="27.30" height="9.40" fill="#4575b4"/>
<rect x="457.15" y="666.36" width="5.70" height="9.40" fill="#6b6b6b"/>
<rect x="462.55" y="666.36" width="38.10" height="9.40" fill="#4575b4"/>
<rect x="500.35" y="666.36" width="21.90" height="9.40" fill="#6b6b6b"/>
<rect x="521.95" y="666.36" width="54.31" height="9.40" fill="#4575b4"/>
<rect x="575.96" y="666.36" width="399.94" height="9.40" fill="#6b6b6b"/>
<rect x="3.50" y="675.46" width="54.31" height="9.07" fill="#6b6b6b"/>
<rect x="57.51" y="675.46" width="75.91" height="9.07" fill="#4575b4"/>
<rect x="133.11" y="675.46" width="16.50" height="9.07" fill="#6b6b6b"/>
<rect x="149.31" y="675.46" width="32.70" height="9.07" fill="#4575b4"/>
<rect x="181.72" y="675.46" width="183.92" height="9.07" fill="#6b6b6b"/>
<rect x="381.54" y="675.46" width="48.91" height="9.07" fill="#6b6b6b"/>
<rect x="430.14" y="675.46" width="27.30" height="9.07" fill="#4575b4"/>
<rect x="457.15" y="675.46" width="5.70" height="9.07" fill="#6b6b6b"/>
<rect x="462.55" y="675.46" width="156.92" height="9.07" fill="#4575b4"/>
<rect x="619.16" y="675.46" width="16.50" height="9.07" fill="#6b6b6b"/>
<rect x="635.37" y="675.46" width="5.70" height="9.07" fill="#4575b4"/>
<rect x="640.77" y="675.46" width="16.50" height="9.07" fill="#6b6b6b"/>
<rect x="656.97" y="675.46" width="5.70" height="9.07" fill="#4575b4"/>
<rect x="662.37" y="675.46" width="146.11" height="9.07" fill="#6b6b6b"/>
<rect x="808.18" y="675.46" width="38.10" height="9.07" fill="#4575b4"/>
<rect x="845.99" y="675.46" width="129.91" height="9.07" fill="#6b6b6b"/>
<rect x="3.50" y="684.23" width="86.71" height="8.77" fill="#4575b4"/>
<rect x="89.91" y="684.23" width="21.90" height="8.77" fill="#6b6b6b"/>
<rect x="111.51" y="684.23" width="21.90" height="8.77" fill="#4575b4"/>
<rect x="133.11" y="684.23" width="16.50" height="8.77" fill="#6b6b6b"/>
<rect x="149.31" y="684.23" width="43.50" height="8.77" fill="#4575b4"/>
<rect x="192.52" y="684.23" width="173.12" height="8.77" fill="#6b6b6b"/>
<rect x="370.74" y="684.23" width="48.91" height="8.77" fill="#6b6b6b"/>
<rect x="419.34" y="684.23" width="38.10" height="8.77" fill="#4575b4"/>
<rect x="457.15" y="684.23" width="5.70" height="8.77" fill="#6b6b6b"/>
<rect x="462.55" y="684.23" width="216.32" height="8.77" fill="#4575b4"/>
<rect x="678.57" y="684.23" width="27.30" height="8.77" fill="#6b6b6b"/>
<rect x="705.57" y="684.23" width="16.50" height="8.77" fill="#4575b4"/>
<rect x="721.77" y="684.23" width="38.10" height="8.77" fill="#6b6b6b"/>
<rect x="759.58" y="684.23" width="5.70" height="8.77" fill="#4575b4"/>
<rect x="764.98" y="684.23" width="43.50" height="8.77" fill="#6b6b6b"/>
<rect x="808.18" y="684.23" width="48.91" height="8.77" fill="#4575b4"/>
<rect x="856.79" y="684.23" width="119.11" height="8.77" fill="#6b6b6b"/>
<rect x="3.50" y="692.70" width="86.71" height="8.50" fill="#4575b4"/>
<rect x="89.91" y="692.70" width="21.90" height="8.50" fill="#6b6b6b"/>
<rect x="111.51" y="692.70" width="92.11" height="8.50" fill="#4575b4"/>
<rect x="203.32" y="692.70" width="162.32" height="8.50" fill="#6b6b6b"/>
<rect x="370.74" y="692.70" width="92.11" height="8.50" fill="#6b6b6b"/>
<rect x="462.55" y="692.70" width="394.54" height="8.50" fill="#4575b4"/>
<rect x="856.79" y="692.70" width="11.10" height="8.50" fill="#6b6b6b"/>
<rect x="867.59" y="692.70" width="38.10" height="8.50" fill="#4575b4"/>
<rect x="905.39" y="692.70" width="70.51" height="8.50" fill="#6b6b6b"/>
<rect x="3.50" y="700.90" width="286.53" height="8.25" fill="#4575b4"/>
<rect x="289.73" y="700.90" width="173.12" height="8.25" fill="#6b6b6b"/>
<rect x="462.55" y="700.90" width="32.70" height="8.25" fill="#74add1"/>
<rect x="494.95" y="700.90" width="329.73" height="8.25" fill="#4575b4"/>
<rect x="824.38" y="700.90" width="16.50" height="8.25" fill="#6b6b6b"/>
<rect x="840.59" y="700.90" width="135.31" height="8.25" fill="#4575b4"/>
<rect x="3.50" y="708.85" width="313.53" height="8.02" fill="#4575b4"/>
<rect x="316.73" y="708.85" width="92.11" height="8.02" fill="#6b6b6b"/>
<rect x="408.54" y="708.85" width="86.71" height="8.02" fill="#74add1"/>
<rect x="494.95" y="708.85" width="480.95" height="8.02" fill="#4575b4"/>
<rect x="3.50" y="716.57" width="405.34" height="7.81" fill="#4575b4"/>
<rect x="408.54" y="716.57" width="48.91" height="7.81" fill="#74add1"/>
<rect x="457.15" y="716.57" width="16.50" height="7.81" fill="#ffd92f"/>
<rect x="473.35" y="716.57" width="43.50" height="7.81" fill="#74add1"/>
<rect x="516.55" y="716.57" width="38.10" height="7.81" fill="#4575b4"/>
<rect x="554.36" y="716.57" width="5.70" height="7.81" fill="#74add1"/>
<rect x="559.76" y="716.57" width="416.14" height="7.81" fill="#4575b4"/>
<rect x="3.50" y="724.08" width="135.31" height="7.61" fill="#74add1"/>
<rect x="138.51" y="724.08" width="270.33" height="7.61" fill="#4575b4"/>
<rect x="408.54" y="724.08" width="48.91" height="7.61" fill="#74add1"/>
<rect x="457.15" y="724.08" width="16.50" height="7.61" fill="#ffd92f"/>
<rect x="473.35" y="724.08" width="129.91" height="7.61" fill="#74add1"/>
<rect x="602.96" y="724.08" width="27.30" height="7.61" fill="#4575b4"/>
<rect x="629.96" y="724.08" width="5.70" height="7.61" fill="#74add1"/>
<rect x="635.37" y="724.08" width="178.52" height="7.61" fill="#4575b4"/>
<rect x="818.98" y="724.08" width="156.92" height="7.61" fill="#4575b4"/>
<rect x="3.50" y="731.40" width="135.31" height="7.43" fill="#74add1"/>
<rect x="138.51" y="731.40" width="27.30" height="7.43" fill="#4575b4"/>
<rect x="165.52" y="731.40" width="5.70" height="7.43" fill="#74add1"/>
<rect x="170.92" y="731.40" width="11.10" height="7.43" fill="#4575b4"/>
<rect x="181.72" y="731.40" width="21.90" height="7.43" fill="#74add1"/>
<rect x="203.32" y="731.40" width="5.70" height="7.43" fill="#4575b4"/>
<rect x="208.72" y="731.40" width="32.70" height="7.43" fill="#74add1"/>
<rect x="241.12" y="731.40" width="21.90" height="7.43" fill="#4575b4"/>
<rect x="262.73" y="731.40" width="11.10" height="7.43" fill="#74add1"/>
<rect x="273.53" y="731.40" width="5.70" height="7.43" fill="#4575b4"/>
<rect x="278.93" y="731.40" width="11.10" height="7.43" fill="#74add1"/>
<rect x="289.73" y="731.40" width="38.10" height="7.43" fill="#4575b4"/>
<rect x="327.53" y="731.40" width="81.31" height="7.43" fill="#74add1"/>
<rect x="408.54" y="731.40" width="65.11" height="7.43" fill="#ffd92f"/>
<rect x="473.35" y="731.40" width="162.32" height="7.43" fill="#74add1"/>
<rect x="635.37" y="731.40" width="92.11" height="7.43" fill="#4575b4"/>
<rect x="727.17" y="731.40" width="5.70" height="7.43" fill="#6b6b6b"/>
<rect x="732.58" y="731.40" width="243.33" height="7.43" fill="#4575b4"/>
<rect x="3.50" y="738.53" width="308.13" height="7.27" fill="#74add1"/>
<rect x="311.33" y="738.53" width="16.50" height="7.27" fill="#4575b4"/>
<rect x="327.53" y="738.53" width="81.31" height="7.27" fill="#74add1"/>
<rect x="408.54" y="738.53" width="65.11" height="7.27" fill="#ffd92f"/>
<rect x="473.35" y="738.53" width="194.72" height="7.27" fill="#74add1"/>
<rect x="667.77" y="738.53" width="59.71" height="7.27" fill="#4575b4"/>
<rect x="727.17" y="738.53" width="5.70" height="7.27" fill="#6b6b6b"/>
<rect x="732.58" y="738.53" width="16.50" height="7.27" fill="#4575b4"/>
<rect x="748.78" y="738.53" width="5.70" height="7.27" fill="#6b6b6b"/>
<rect x="754.18" y="738.53" width="70.51" height="7.27" fill="#4575b4"/>
<rect x="824.38" y="738.53" width="5.70" height="7.27" fill="#74add1"/>
<rect x="829.79" y="738.53" width="146.12" height="7.27" fill="#4575b4"/>
<rect x="3.50" y="745.50" width="162.32" height="7.12" fill="#ffd92f"/>
<rect x="165.52" y="745.50" width="243.33" height="7.12" fill="#74add1"/>
<rect x="408.54" y="745.50" width="65.11" height="7.12" fill="#ffd92f"/>
<rect x="473.35" y="745.50" width="11.10" height="7.12" fill="#74add1"/>
<rect x="484.15" y="745.50" width="5.70" height="7.12" fill="#ffd92f"/>
<rect x="489.55" y="745.50" width="21.90" height="7.12" fill="#74add1"/>
<rect x="511.15" y="745.50" width="11.10" height="7.12" fill="#ffd92f"/>
<rect x="521.95" y="745.50" width="151.52" height="7.12" fill="#74add1"/>
<rect x="673.17" y="745.50" width="11.10" height="7.12" fill="#4575b4"/>
<rect x="683.97" y="745.50" width="16.50" height="7.12" fill="#74add1"/>
<rect x="700.17" y="745.50" width="11.10" height="7.12" fill="#4575b4"/>
<rect x="710.97" y="745.50" width="21.90" height="7.12" fill="#74add1"/>
<rect x="732.58" y="745.50" width="86.71" height="7.12" fill="#4575b4"/>
<rect x="818.98" y="745.50" width="32.70" height="7.12" fill="#74add1"/>
<rect x="851.39" y="745.50" width="124.51" height="7.12" fill="#4575b4"/>
<rect x="3.50" y="752.32" width="167.72" height="6.98" fill="#ffd92f"/>
<rect x="170.92" y="752.32" width="237.92" height="6.98" fill="#74add1"/>
<rect x="408.54" y="752.32" width="65.11" height="6.98" fill="#ffd92f"/>
<rect x="473.35" y="752.32" width="11.10" height="6.98" fill="#74add1"/>
<rect x="484.15" y="752.32" width="70.51" height="6.98" fill="#ffd92f"/>
<rect x="554.36" y="752.32" width="146.12" height="6.98" fill="#74add1"/>
<rect x="700.17" y="752.32" width="11.10" height="6.98" fill="#4575b4"/>
<rect x="710.97" y="752.32" width="16.50" height="6.98" fill="#74add1"/>
<rect x="727.17" y="752.32" width="5.70" height="6.98" fill="#6b6b6b"/>
<rect x="732.58" y="752.32" width="5.70" height="6.98" fill="#74add1"/>
<rect x="737.98" y="752.32" width="75.91" height="6.98" fill="#4575b4"/>
<rect x="813.58" y="752.32" width="81.31" height="6.98" fill="#74add1"/>
<rect x="894.59" y="752.32" width="81.31" height="6.98" fill="#4575b4"/>
<rect x="3.50" y="758.99" width="167.72" height="6.85" fill="#ffd92f"/>
<rect x="170.92" y="758.99" width="237.92" height="6.85" fill="#74add1"/>
<rect x="408.54" y="758.99" width="156.92" height="6.85" fill="#ffd92f"/>
<rect x="565.16" y="758.99" width="102.91" height="6.85" fill="#74add1"/>
<rect x="667.77" y="758.99" width="11.10" height="6.85" fill="#ffd92f"/>
<rect x="678.57" y="758.99" width="70.51" height="6.85" fill="#74add1"/>
<rect x="759.58" y="758.99" width="54.31" height="6.85" fill="#4575b4"/>
<rect x="813.58" y="758.99" width="162.32" height="6.85" fill="#74add1"/>
<rect x="3.50" y="765.54" width="173.12" height="6.73" fill="#ffd92f"/>
<rect x="176.32" y="765.54" width="32.70" height="6.73" fill="#74add1"/>
<rect x="208.72" y="765.54" width="65.11" height="6.73" fill="#ffd92f"/>
<rect x="273.53" y="765.54" width="135.31" height="6.73" fill="#74add1"/>
<rect x="408.54" y="765.54" width="189.32" height="6.73" fill="#ffd92f"/>
<rect x="597.56" y="765.54" width="43.50" height="6.73" fill="#74add1"/>
<rect x="640.77" y="765.54" width="38.10" height="6.73" fill="#ffd92f"/>
<rect x="678.57" y="765.54" width="21.90" height="6.73" fill="#4575b4"/>
<rect x="700.17" y="765.54" width="48.91" height="6.73" fill="#74add1"/>
<rect x="748.78" y="765.54" width="21.90" height="6.73" fill="#4575b4"/>
<rect x="770.38" y="765.54" width="21.90" height="6.73" fill="#74add1"/>
<rect x="791.98" y="765.54" width="11.10" height="6.73" fill="#4575b4"/>
<rect x="802.78" y="765.54" width="38.10" height="6.73" fill="#74add1"/>
<rect x="840.59" y="765.54" width="135.31" height="6.73" fill="#ffd92f"/>
<rect x="3.50" y="771.96" width="194.72" height="6.61" fill="#ffd92f"/>
<rect x="197.92" y="771.96" width="5.70" height="6.61" fill="#74add1"/>
<rect x="203.32" y="771.96" width="254.13" height="6.61" fill="#ffd92f"/>
<rect x="457.15" y="771.96" width="27.30" height="6.61" fill="#ff7f00"/>
<rect x="484.15" y="771.96" width="194.72" height="6.61" fill="#ffd92f"/>
<rect x="678.57" y="771.96" width="21.90" height="6.61" fill="#4575b4"/>
<rect x="700.17" y="771.96" width="27.30" height="6.61" fill="#74add1"/>
<rect x="727.17" y="771.96" width="21.90" height="6.61" fill="#6b6b6b"/>
<rect x="748.78" y="771.96" width="21.90" height="6.61" fill="#4575b4"/>
<rect x="770.38" y="771.96" width="70.51" height="6.61" fill="#74add1"/>
<rect x="840.59" y="771.96" width="135.31" height="6.61" fill="#ffd92f"/>
<rect x="3.50" y="778.28" width="167.72" height="6.51" fill="#ffd92f"/>
<rect x="170.92" y="778.28" width="11.10" height="6.51" fill="#ff7f00"/>
<rect x="181.72" y="778.28" width="54.31" height="6.51" fill="#ffd92f"/>
<rect x="235.72" y="778.28" width="5.70" height="6.51" fill="#ff7f00"/>
<rect x="241.12" y="778.28" width="32.70" height="6.51" fill="#ffd92f"/>
<rect x="273.53" y="778.28" width="5.70" height="6.51" fill="#ff7f00"/>
<rect x="278.93" y="778.28" width="178.52" height="6.51" fill="#ffd92f"/>
<rect x="457.15" y="778.28" width="59.71" height="6.51" fill="#ff7f00"/>
<rect x="516.55" y="778.28" width="70.51" height="6.51" fill="#ffd92f"/>
<rect x="586.76" y="778.28" width="32.70" height="6.51" fill="#ff7f00"/>
<rect x="619.16" y="778.28" width="59.71" height="6.51" fill="#ffd92f"/>
<rect x="678.57" y="778.28" width="21.90" height="6.51" fill="#4575b4"/>
<rect x="700.17" y="778.28" width="48.91" height="6.51" fill="#6b6b6b"/>
<rect x="748.78" y="778.28" width="21.90" height="6.51" fill="#4575b4"/>
<rect x="770.38" y="778.28" width="21.90" height="6.51" fill="#74add1"/>
<rect x="791.98" y="778.28" width="32.70" height="6.51" fill="#ffd92f"/>
<rect x="824.38" y="778.28" width="16.50" height="6.51" fill="#74add1"/>
<rect x="840.59" y="778.28" width="135.31" height="6.51" fill="#ffd92f"/>
<rect x="3.50" y="784.49" width="167.72" height="6.42" fill="#ffd92f"/>
<rect x="170.92" y="784.49" width="16.50" height="6.42" fill="#ff7f00"/>
<rect x="187.12" y="784.49" width="48.90" height="6.42" fill="#ffd92f"/>
<rect x="235.72" y="784.49" width="5.70" height="6.42" fill="#ff7f00"/>
<rect x="241.12" y="784.49" width="216.32" height="6.42" fill="#ffd92f"/>
<rect x="457.15" y="784.49" width="5.70" height="6.42" fill="#ff7f00"/>
<rect x="462.55" y="784.49" width="32.70" height="6.42" fill="#ffd92f"/>
<rect x="494.95" y="784.49" width="124.51" height="6.42" fill="#ff7f00"/>
<rect x="619.16" y="784.49" width="59.71" height="6.42" fill="#ffd92f"/>
<rect x="678.57" y="784.49" width="21.90" height="6.42" fill="#4575b4"/>
<rect x="700.17" y="784.49" width="48.91" height="6.42" fill="#6b6b6b"/>
<rect x="748.78" y="784.49" width="21.90" height="6.42" fill="#4575b4"/>
<rect x="770.38" y="784.49" width="11.10" height="6.42" fill="#74add1"/>
<rect x="781.18" y="784.49" width="194.72" height="6.42" fill="#ffd92f"/>
<rect x="3.50" y="790.61" width="189.32" height="6.33" fill="#ff7f00"/>
<rect x="192.52" y="790.61" width="43.50" height="6.33" fill="#ffd92f"/>
<rect x="235.72" y="790.61" width="21.90" height="6.33" fill="#ff7f00"/>
<rect x="257.33" y="790.61" width="16.50" height="6.33" fill="#ffd92f"/>
<rect x="273.53" y="790.61" width="135.31" height="6.33" fill="#ff7f00"/>
<rect x="408.54" y="790.61" width="102.91" height="6.33" fill="#ffd92f"/>
<rect x="516.55" y="790.61" width="102.91" height="6.33" fill="#ff7f00"/>
<rect x="619.16" y="790.61" width="5.70" height="6.33" fill="#ffd92f"/>
<rect x="629.96" y="790.61" width="27.30" height="6.33" fill="#ffd92f"/>
<rect x="667.77" y="790.61" width="32.70" height="6.33" fill="#ffd92f"/>
<rect x="700.17" y="790.61" width="27.30" height="6.33" fill="#6b6b6b"/>
<rect x="727.17" y="790.61" width="43.50" height="6.33" fill="#4575b4"/>
<rect x="770.38" y="790.61" width="205.52" height="6.33" fill="#ffd92f"/>
<rect x="3.50" y="796.64" width="194.72" height="6.25" fill="#ff7f00"/>
<rect x="197.92" y="796.64" width="27.30" height="6.25" fill="#ffd92f"/>
<rect x="224.92" y="796.64" width="38.10" height="6.25" fill="#ff7f00"/>
<rect x="262.73" y="796.64" width="5.70" height="6.25" fill="#ffd92f"/>
<rect x="268.13" y="796.64" width="140.71" height="6.25" fill="#ff7f00"/>
<rect x="408.54" y="796.64" width="59.71" height="6.25" fill="#ffd92f"/>
<rect x="521.95" y="796.64" width="124.51" height="6.25" fill="#ff7f00"/>
<rect x="651.57" y="796.64" width="27.30" height="6.25" fill="#ffd92f"/>
<rect x="678.57" y="796.64" width="21.90" height="6.25" fill="#ff7f00"/>
<rect x="700.17" y="796.64" width="27.30" height="6.25" fill="#6b6b6b"/>
<rect x="727.17" y="796.64" width="27.30" height="6.25" fill="#4575b4"/>
<rect x="754.18" y="796.64" width="38.10" height="6.25" fill="#ffd92f"/>
<rect x="791.98" y="796.64" width="183.92" height="6.25" fill="#ff7f00"/>
<rect x="3.50" y="802.58" width="194.72" height="6.18" fill="#ff7f00"/>
<rect x="197.92" y="802.58" width="16.50" height="6.18" fill="#ffd92f"/>
<rect x="214.12" y="802.58" width="243.33" height="6.18" fill="#ff7f00"/>
<rect x="457.15" y="802.58" width="11.10" height="6.18" fill="#ffd92f"/>
<rect x="532.75" y="802.58" width="11.10" height="6.18" fill="#ff7f00"/>
<rect x="565.16" y="802.58" width="21.90" height="6.18" fill="#ff7f00"/>
<rect x="619.16" y="802.58" width="108.31" height="6.18" fill="#ff7f00"/>
<rect x="727.17" y="802.58" width="16.50" height="6.18" fill="#4575b4"/>
<rect x="743.38" y="802.58" width="11.10" height="6.18" fill="#74add1"/>
<rect x="754.18" y="802.58" width="16.50" height="6.18" fill="#ffd92f"/>
<rect x="770.38" y="802.58" width="205.52" height="6.18" fill="#ff7f00"/>
<rect x="3.50" y="808.46" width="194.72" height="6.11" fill="#ff7f00"/>
<rect x="197.92" y="808.46" width="11.10" height="6.11" fill="#ffd92f"/>
<rect x="208.72" y="808.46" width="232.52" height="6.11" fill="#ff7f00"/>
<rect x="440.95" y="808.46" width="5.70" height="6.11" fill="#ffd92f"/>
<rect x="451.75" y="808.46" width="11.10" height="6.11" fill="#ffd92f"/>
<rect x="532.75" y="808.46" width="11.10" height="6.11" fill="#ff7f00"/>
<rect x="565.16" y="808.46" width="21.90" height="6.11" fill="#ff7f00"/>
<rect x="619.16" y="808.46" width="356.74" height="6.11" fill="#ff7f00"/>
<rect x="3.50" y="814.27" width="194.72" height="6.05" fill="#ff7f00"/>
<rect x="197.92" y="814.27" width="11.10" height="6.05" fill="#ffd92f"/>
<rect x="208.72" y="814.27" width="232.52" height="6.05" fill="#ff7f00"/>
<rect x="440.95" y="814.27" width="16.50" height="6.05" fill="#ffd92f"/>
<rect x="575.96" y="814.27" width="11.10" height="6.05" fill="#ff7f00"/>
<rect x="640.77" y="814.27" width="59.71" height="6.05" fill="#ff7f00"/>
<rect x="700.17" y="814.27" width="48.91" height="6.05" fill="#e31a1c"/>
<rect x="748.78" y="814.27" width="65.11" height="6.05" fill="#ff7f00"/>
<rect x="818.98" y="814.27" width="156.92" height="6.05" fill="#ff7f00"/>
<rect x="3.50" y="820.02" width="437.75" height="5.99" fill="#ff7f00"/>
<rect x="440.95" y="820.02" width="11.10" height="5.99" fill="#ffd92f"/>
<rect x="575.96" y="820.02" width="21.90" height="5.99" fill="#ff7f00"/>
<rect x="646.17" y="820.02" width="5.70" height="5.99" fill="#ff7f00"/>
<rect x="651.57" y="820.02" width="129.91" height="5.99" fill="#e31a1c"/>
<rect x="781.18" y="820.02" width="32.70" height="5.99" fill="#ff7f00"/>
<rect x="818.98" y="820.02" width="156.92" height="5.99" fill="#ff7f00"/>
<rect x="3.50" y="825.71" width="437.75" height="5.94" fill="#ff7f00"/>
<rect x="440.95" y="825.71" width="5.70" height="5.94" fill="#ffd92f"/>
<rect x="581.36" y="825.71" width="16.50" height="5.94" fill="#ff7f00"/>
<rect x="608.36" y="825.71" width="11.10" height="5.94" fill="#ff7f00"/>
<rect x="646.17" y="825.71" width="5.70" height="5.94" fill="#ff7f00"/>
<rect x="651.57" y="825.71" width="324.33" height="5.94" fill="#e31a1c"/>
<rect x="3.50" y="831.35" width="286.53" height="5.90" fill="#ff7f00"/>
<rect x="289.73" y="831.35" width="16.50" height="5.90" fill="#e78ac3"/>
<rect x="305.93" y="831.35" width="156.92" height="5.90" fill="#ff7f00"/>
<rect x="581.36" y="831.35" width="5.70" height="5.90" fill="#ff7f00"/>
<rect x="586.76" y="831.35" width="11.10" height="5.90" fill="#e31a1c"/>
<rect x="640.77" y="831.35" width="11.10" height="5.90" fill="#ff7f00"/>
<rect x="651.57" y="831.35" width="324.33" height="5.90" fill="#e31a1c"/>
<rect x="3.50" y="836.95" width="286.53" height="5.86" fill="#ff7f00"/>
<rect x="289.73" y="836.95" width="16.50" height="5.86" fill="#e78ac3"/>
<rect x="305.93" y="836.95" width="156.92" height="5.86" fill="#ff7f00"/>
<rect x="473.35" y="836.95" width="43.50" height="5.86" fill="#ff7f00"/>
<rect x="575.96" y="836.95" width="11.10" height="5.86" fill="#ff7f00"/>
<rect x="586.76" y="836.95" width="11.10" height="5.86" fill="#e31a1c"/>
<rect x="597.56" y="836.95" width="11.10" height="5.86" fill="#ff7f00"/>
<rect x="629.96" y="836.95" width="21.90" height="5.86" fill="#ff7f00"/>
<rect x="651.57" y="836.95" width="324.33" height="5.86" fill="#e31a1c"/>
<rect x="3.50" y="842.50" width="497.15" height="5.82" fill="#e31a1c"/>
<rect x="500.35" y="842.50" width="32.70" height="5.82" fill="#ff7f00"/>
<rect x="543.56" y="842.50" width="16.50" height="5.82" fill="#e31a1c"/>
<rect x="565.16" y="842.50" width="21.90" height="5.82" fill="#ff7f00"/>
<rect x="586.76" y="842.50" width="11.10" height="5.82" fill="#e31a1c"/>
<rect x="597.56" y="842.50" width="5.70" height="5.82" fill="#e78ac3"/>
<rect x="602.96" y="842.50" width="372.94" height="5.82" fill="#e31a1c"/>
<rect x="3.50" y="848.02" width="556.56" height="5.79" fill="#e31a1c"/>
<rect x="565.16" y="848.02" width="21.90" height="5.79" fill="#ff7f00"/>
<rect x="586.76" y="848.02" width="16.50" height="5.79" fill="#e78ac3"/>
<rect x="602.96" y="848.02" width="372.94" height="5.79" fill="#e31a1c"/>
<rect x="3.50" y="853.52" width="556.56" height="5.77" fill="#e31a1c"/>
<rect x="565.16" y="853.52" width="16.50" height="5.77" fill="#e31a1c"/>
<rect x="581.36" y="853.52" width="21.90" height="5.77" fill="#e78ac3"/>
<rect x="629.96" y="853.52" width="345.94" height="5.77" fill="#e31a1c"/>
<rect x="3.50" y="858.98" width="578.16" height="5.74" fill="#e31a1c"/>
<rect x="581.36" y="858.98" width="21.90" height="5.74" fill="#e78ac3"/>
<rect x="629.96" y="858.98" width="345.94" height="5.74" fill="#e31a1c"/>
<rect x="3.50" y="864.42" width="551.16" height="5.73" fill="#e31a1c"/>
<rect x="559.76" y="864.42" width="21.90" height="5.73" fill="#e31a1c"/>
<rect x="581.36" y="864.42" width="16.50" height="5.73" fill="#e78ac3"/>
<rect x="629.96" y="864.42" width="345.94" height="5.73" fill="#e31a1c"/>
<rect x="3.50" y="869.85" width="281.13" height="5.71" fill="#e78ac3"/>
<rect x="284.33" y="869.85" width="281.13" height="5.71" fill="#e31a1c"/>
<rect x="570.56" y="869.85" width="11.10" height="5.71" fill="#e31a1c"/>
<rect x="581.36" y="869.85" width="16.50" height="5.71" fill="#e78ac3"/>
<rect x="629.96" y="869.85" width="345.94" height="5.71" fill="#e31a1c"/>
<rect x="3.50" y="875.26" width="281.13" height="5.71" fill="#e78ac3"/>
<rect x="284.33" y="875.26" width="32.70" height="5.71" fill="#e31a1c"/>
<rect x="322.13" y="875.26" width="227.12" height="5.71" fill="#e31a1c"/>
<rect x="554.36" y="875.26" width="16.50" height="5.71" fill="#e31a1c"/>
<rect x="570.56" y="875.26" width="38.10" height="5.71" fill="#e78ac3"/>
<rect x="608.36" y="875.26" width="194.72" height="5.71" fill="#e31a1c"/>
<rect x="808.18" y="875.26" width="167.72" height="5.71" fill="#e31a1c"/>
<rect x="3.50" y="880.67" width="281.13" height="5.70" fill="#e78ac3"/>
<rect x="284.33" y="880.67" width="43.50" height="5.70" fill="#e31a1c"/>
<rect x="332.93" y="880.67" width="221.72" height="5.70" fill="#e31a1c"/>
<rect x="565.16" y="880.67" width="43.50" height="5.70" fill="#e78ac3"/>
<rect x="608.36" y="880.67" width="183.92" height="5.70" fill="#e31a1c"/>
<rect x="797.38" y="880.67" width="178.52" height="5.70" fill="#e31a1c"/>
<rect x="3.50" y="886.07" width="281.13" height="5.70" fill="#e78ac3"/>
<rect x="284.33" y="886.07" width="281.13" height="5.70" fill="#e31a1c"/>
<rect x="565.16" y="886.07" width="43.50" height="5.70" fill="#e78ac3"/>
<rect x="608.36" y="886.07" width="367.54" height="5.70" fill="#e31a1c"/>
<rect x="3.50" y="891.47" width="281.13" height="5.71" fill="#e78ac3"/>
<rect x="284.33" y="891.47" width="270.33" height="5.71" fill="#e31a1c"/>
<rect x="554.36" y="891.47" width="97.51" height="5.71" fill="#e78ac3"/>
<rect x="651.57" y="891.47" width="324.33" height="5.71" fill="#e31a1c"/>
<rect x="3.50" y="896.88" width="281.13" height="5.71" fill="#e78ac3"/>
<rect x="284.33" y="896.88" width="270.33" height="5.71" fill="#e31a1c"/>
<rect x="554.36" y="896.88" width="97.51" height="5.71" fill="#e78ac3"/>
<rect x="651.57" y="896.88" width="324.33" height="5.71" fill="#e31a1c"/>
<rect x="3.50" y="902.29" width="281.13" height="5.73" fill="#e78ac3"/>
<rect x="284.33" y="902.29" width="92.11" height="5.73" fill="#e31a1c"/>
<rect x="376.14" y="902.29" width="32.70" height="5.73" fill="#e78ac3"/>
<rect x="408.54" y="902.29" width="119.11" height="5.73" fill="#e31a1c"/>
<rect x="527.35" y="902.29" width="59.71" height="5.73" fill="#e78ac3"/>
<rect x="586.76" y="902.29" width="11.10" height="5.73" fill="#e31a1c"/>
<rect x="597.56" y="902.29" width="54.31" height="5.73" fill="#e78ac3"/>
<rect x="651.57" y="902.29" width="324.33" height="5.73" fill="#e31a1c"/>
<rect x="3.50" y="907.72" width="286.53" height="5.74" fill="#e78ac3"/>
<rect x="289.73" y="907.72" width="81.31" height="5.74" fill="#e31a1c"/>
<rect x="370.74" y="907.72" width="281.13" height="5.74" fill="#e78ac3"/>
<rect x="651.57" y="907.72" width="324.33" height="5.74" fill="#e31a1c"/>
<rect x="3.50" y="913.16" width="291.93" height="5.77" fill="#e78ac3"/>
<rect x="300.53" y="913.16" width="65.11" height="5.77" fill="#e31a1c"/>
<rect x="365.34" y="913.16" width="610.56" height="5.77" fill="#e78ac3"/>
<rect x="3.50" y="918.63" width="345.94" height="5.79" fill="#e78ac3"/>
<rect x="349.14" y="918.63" width="11.10" height="5.79" fill="#e31a1c"/>
<rect x="359.94" y="918.63" width="615.96" height="5.79" fill="#e78ac3"/>
<rect x="3.50" y="924.12" width="972.40" height="5.82" fill="#e78ac3"/>
<rect x="3.50" y="929.64" width="972.40" height="5.86" fill="#e78ac3"/>
<rect x="3.50" y="935.20" width="297.33" height="5.90" fill="#e78ac3"/>
<rect x="300.53" y="935.20" width="11.10" height="5.90" fill="#9970ab"/>
<rect x="311.33" y="935.20" width="664.57" height="5.90" fill="#e78ac3"/>
<rect x="3.50" y="940.79" width="297.33" height="5.94" fill="#e78ac3"/>
<rect x="300.53" y="940.79" width="11.10" height="5.94" fill="#9970ab"/>
<rect x="311.33" y="940.79" width="97.51" height="5.94" fill="#e78ac3"/>
<rect x="408.54" y="940.79" width="129.91" height="5.94" fill="#9970ab"/>
<rect x="538.16" y="940.79" width="313.53" height="5.94" fill="#e78ac3"/>
<rect x="851.39" y="940.79" width="5.70" height="5.94" fill="#9970ab"/>
<rect x="862.19" y="940.79" width="113.71" height="5.94" fill="#e78ac3"/>
<rect x="3.50" y="946.43" width="297.33" height="5.99" fill="#e78ac3"/>
<rect x="300.53" y="946.43" width="11.10" height="5.99" fill="#9970ab"/>
<rect x="311.33" y="946.43" width="97.51" height="5.99" fill="#e78ac3"/>
<rect x="408.54" y="946.43" width="119.11" height="5.99" fill="#9970ab"/>
<rect x="532.75" y="946.43" width="21.90" height="5.99" fill="#9970ab"/>
<rect x="554.36" y="946.43" width="254.13" height="5.99" fill="#e78ac3"/>
<rect x="818.98" y="946.43" width="16.50" height="5.99" fill="#e78ac3"/>
<rect x="835.19" y="946.43" width="21.90" height="5.99" fill="#9970ab"/>
<rect x="856.79" y="946.43" width="11.10" height="5.99" fill="#e78ac3"/>
<rect x="867.59" y="946.43" width="5.70" height="5.99" fill="#9970ab"/>
<rect x="872.99" y="946.43" width="102.91" height="5.99" fill="#e78ac3"/>
<rect x="3.50" y="952.13" width="297.33" height="6.05" fill="#e78ac3"/>
<rect x="300.53" y="952.13" width="11.10" height="6.05" fill="#9970ab"/>
<rect x="311.33" y="952.13" width="97.51" height="6.05" fill="#e78ac3"/>
<rect x="408.54" y="952.13" width="119.11" height="6.05" fill="#9970ab"/>
<rect x="532.75" y="952.13" width="32.70" height="6.05" fill="#9970ab"/>
<rect x="565.16" y="952.13" width="237.92" height="6.05" fill="#e78ac3"/>
<rect x="802.78" y="952.13" width="21.90" height="6.05" fill="#9970ab"/>
<rect x="829.79" y="952.13" width="32.70" height="6.05" fill="#9970ab"/>
<rect x="862.19" y="952.13" width="5.70" height="6.05" fill="#e78ac3"/>
<rect x="867.59" y="952.13" width="21.90" height="6.05" fill="#9970ab"/>
<rect x="889.19" y="952.13" width="86.71" height="6.05" fill="#e78ac3"/>
<rect x="3.50" y="957.87" width="297.33" height="6.11" fill="#e78ac3"/>
<rect x="300.53" y="957.87" width="11.10" height="6.11" fill="#9970ab"/>
<rect x="311.33" y="957.87" width="97.51" height="6.11" fill="#e78ac3"/>
<rect x="408.54" y="957.87" width="124.51" height="6.11" fill="#9970ab"/>
<rect x="538.16" y="957.87" width="437.75" height="6.11" fill="#9970ab"/>
<rect x="3.50" y="963.68" width="297.33" height="6.18" fill="#e78ac3"/>
<rect x="300.53" y="963.68" width="11.10" height="6.18" fill="#9970ab"/>
<rect x="311.33" y="963.68" width="11.10" height="6.18" fill="#e78ac3"/>
<rect x="322.13" y="963.68" width="11.10" height="6.18" fill="#9970ab"/>
<rect x="332.93" y="963.68" width="75.91" height="6.18" fill="#e78ac3"/>
<rect x="408.54" y="963.68" width="421.54" height="6.18" fill="#9970ab"/>
<rect x="840.59" y="963.68" width="135.31" height="6.18" fill="#9970ab"/>
<rect x="3.50" y="969.56" width="972.40" height="6.25" fill="#9970ab"/>
<rect x="3.50" y="975.51" width="972.40" height="6.33" fill="#9970ab"/>
<rect x="3.50" y="981.54" width="972.40" height="6.42" fill="#9970ab"/>
<rect x="3.50" y="987.65" width="972.40" height="6.51" fill="#9970ab"/>
<rect x="3.50" y="993.87" width="972.40" height="6.61" fill="#9970ab"/>
<rect x="3.50" y="1000.18" width="972.40" height="6.73" fill="#9970ab"/>
<rect x="3.50" y="1006.60" width="405.34" height="6.85" fill="#54278f"/>
<rect x="408.54" y="1006.60" width="567.36" height="6.85" fill="#9970ab"/>
<rect x="3.50" y="1013.15" width="405.34" height="6.98" fill="#54278f"/>
<rect x="408.54" y="1013.15" width="567.36" height="6.98" fill="#9970ab"/>
<rect x="3.50" y="1019.83" width="405.34" height="7.12" fill="#54278f"/>
<rect x="408.54" y="1019.83" width="567.36" height="7.12" fill="#9970ab"/>
<rect x="3.50" y="1026.64" width="405.34" height="7.27" fill="#54278f"/>
<rect x="408.54" y="1026.64" width="567.36" height="7.27" fill="#9970ab"/>
<rect x="3.50" y="1033.61" width="405.34" height="7.43" fill="#54278f"/>
<rect x="408.54" y="1033.61" width="567.36" height="7.43" fill="#9970ab"/>
<rect x="3.50" y="1040.75" width="405.34" height="7.61" fill="#54278f"/>
<rect x="408.54" y="1040.75" width="567.36" height="7.61" fill="#9970ab"/>
<rect x="3.50" y="1048.06" width="405.34" height="7.81" fill="#54278f"/>
<rect x="408.54" y="1048.06" width="567.36" height="7.81" fill="#9970ab"/>
<rect x="3.50" y="1055.57" width="405.34" height="8.02" fill="#54278f"/>
<rect x="408.54" y="1055.57" width="567.36" height="8.02" fill="#9970ab"/>
<rect x="3.50" y="1063.29" width="405.34" height="8.25" fill="#54278f"/>
<rect x="408.54" y="1063.29" width="567.36" height="8.25" fill="#9970ab"/>
</g>
<use href="#seas" fill="#e6e6e6"/>
<use href="#land" fill="none" stroke="#000" stroke-width="2.1" stroke-linejoin="round"/>
<use href="#seas" fill="none" stroke="#000" stroke-width="2.1" stroke-linejoin="round"/>
<use href="#lakes" fill="none" stroke="#000" stroke-width="2.1" stroke-linejoin="round"/>
</g>
<text x="22.6" y="570.5" font-size="34" font-weight="bold" fill="#000">d</text>
<rect x="3.5" y="1153.6" width="972.1" height="540.1" fill="#e6e6e6"/>
<g transform="translate(0 623.9)"><g clip-path="url(#mapclip)">
<use href="#land" fill="#fff"/>
<use href="#seas" fill="#e6e6e6"/>
</g></g>
<clipPath id="mapclipf"><rect x="3.5" y="1153.6" width="972.1" height="540.1"/></clipPath>
<g clip-path="url(#mapclipf)">
<path d="M128.8 1284.4h0M134.5 1281.5h0M138.8 1287.2h0M131.7 1290.1h0M148.8 1285.8h0M153.1 1291.5h0M103.7 1310.1h0M93.7 1315.8h0M350.9 1294.4h0M354.5 1299.4h0M432.5 1305.1h0M540.1 1287.3h0M537.3 1297.3h0M726.2 1279.4h0M725.5 1290.1h0M711.9 1411.8h0M716.2 1417.5h0M721.9 1407.5h0M727.7 1403.2h0M733.4 1400.4h0M739.1 1398.9h0M726.2 1413.2h0M732.0 1410.4h0M737.7 1407.5h0M743.4 1404.7h0M747.7 1401.8h0M721.9 1419.0h0M727.7 1420.4h0M728.4 1363.1h0M747.7 1364.6h0M825.3 1290.1h0M886.8 1275.1h0M881.8 1283.7h0M897.5 1287.3h0M903.3 1288.7h0M909.7 1289.4h0M917.6 1279.4h0M921.2 1283.7h0M959.8 1305.2h0M715.7 1419.0h0M744.4 1401.8h0M750.1 1404.7h0M742.9 1408.9h0M727.9 1366.0h0M750.1 1363.9h0" stroke="#6b6b6b" stroke-width="10.6" stroke-linecap="round" fill="none"/>
<path d="M57.9 1296.1h0M69.4 1324.4h0M73.0 1321.6h0M67.2 1328.0h0M83.0 1321.6h0M70.1 1330.2h0M112.3 1313.0h0M120.2 1320.1h0M124.5 1318.7h0M143.1 1292.9h0M147.4 1298.7h0M151.7 1303.0h0M156.0 1307.3h0M160.3 1311.6h0M164.6 1307.3h0M168.9 1310.1h0M173.2 1305.8h0M163.1 1317.3h0M168.9 1317.3h0M160.3 1321.6h0M164.6 1325.9h0M170.3 1323.0h0M160.3 1327.3h0M177.5 1321.6h0M181.8 1324.4h0M170.3 1338.7h0M176.0 1335.9h0M181.8 1337.3h0M187.5 1333.0h0M193.2 1330.2h0M198.9 1327.3h0M204.7 1325.9h0M210.4 1330.2h0M216.1 1334.5h0M221.8 1333.0h0M227.6 1335.9h0M233.3 1337.3h0M237.6 1341.6h0M241.9 1345.9h0M243.3 1350.2h0M177.5 1343.0h0M183.2 1343.0h0M188.9 1340.2h0M194.6 1337.3h0M200.4 1335.9h0M206.1 1338.7h0M211.8 1341.6h0M217.5 1341.6h0M223.3 1341.6h0M229.0 1343.0h0M234.7 1345.9h0M176.0 1348.8h0M181.8 1350.2h0M187.5 1347.3h0M193.2 1345.9h0M198.9 1344.5h0M204.7 1347.3h0M210.4 1350.2h0M216.1 1348.8h0M223.3 1348.8h0M229.0 1350.2h0M234.7 1351.6h0M240.4 1353.1h0M183.2 1355.9h0M188.9 1353.1h0M194.6 1353.1h0M200.4 1353.1h0M206.1 1355.9h0M200.4 1358.8h0M204.7 1361.7h0M203.2 1365.9h0M257.6 1351.6h0M259.0 1355.9h0M256.2 1357.4h0M259.3 1353.1h0M258.6 1357.4h0M526.3 1310.1h0M522.0 1315.8h0M516.2 1323.0h0M524.8 1321.6h0M527.7 1330.2h0M522.0 1328.7h0M563.8 1288.7h0M574.5 1294.4h0M573.1 1300.2h0M578.8 1304.5h0M561.6 1305.9h0M567.3 1308.7h0M555.9 1311.6h0M551.6 1314.5h0M558.7 1317.3h0M564.5 1315.9h0M570.2 1314.5h0M575.9 1313.0h0M581.7 1311.6h0M530.1 1317.3h0M523.0 1325.9h0M528.7 1323.1h0M534.4 1320.2h0M524.4 1331.7h0M530.1 1330.2h0M535.8 1327.4h0M527.3 1337.4h0M533.0 1334.5h0M538.7 1321.6h0M561.6 1323.1h0M567.3 1327.4h0M573.1 1325.9h0M563.0 1333.1h0M570.2 1334.5h0M561.6 1341.7h0M575.9 1335.9h0M581.7 1333.1h0M593.1 1317.3h0M596.0 1323.1h0M598.8 1328.8h0M604.6 1334.5h0M594.5 1328.8h0M588.8 1323.1h0M641.8 1327.4h0M635.3 1335.9h0M620.3 1344.5h0M620.3 1350.3h0M661.8 1318.8h0M666.1 1321.6h0M670.4 1325.9h0M653.2 1340.2h0M656.1 1344.5h0M663.2 1350.3h0M667.5 1353.1h0M673.3 1360.3h0M679.0 1331.7h0M681.9 1337.4h0M684.7 1343.1h0M679.0 1346.0h0M687.6 1348.8h0M691.9 1361.7h0M700.5 1343.1h0M699.0 1353.1h0M704.8 1351.7h0M713.3 1343.8h0M736.2 1346.0h0M734.8 1359.6h0M742.0 1363.1h0M720.5 1364.6h0M707.6 1371.7h0M697.6 1381.8h0M736.2 1368.9h0M723.4 1424.7h0M729.1 1426.1h0M734.8 1423.3h0M739.1 1420.4h0M826.7 1308.7h0M702.9 1344.5h0M765.1 1333.8h0M764.4 1340.2h0M793.8 1341.7h0M791.6 1348.8h0M795.2 1353.8h0M777.3 1357.4h0M833.8 1345.3h0M738.6 1364.6h0M741.5 1368.9h0M757.3 1363.9h0M755.8 1375.3h0M762.3 1378.2h0M801.6 1362.4h0M807.4 1364.6h0M806.6 1369.6h0M804.5 1383.2h0M793.0 1391.8h0M857.5 1353.1h0M863.2 1351.7h0M867.5 1348.8h0M856.7 1361.0h0M921.2 1343.8h0M913.3 1357.4h0M742.2 1397.5h0M752.2 1398.9h0M760.1 1404.7h0M754.4 1410.4h0M730.1 1424.7h0M735.8 1421.8h0" stroke="#4575b4" stroke-width="10.6" stroke-linecap="round" fill="none"/>
<path d="M166.0 1371.7h0M171.7 1367.4h0M177.5 1365.9h0M183.2 1368.8h0M188.9 1373.1h0M191.8 1378.8h0M190.3 1384.6h0M187.5 1390.3h0M188.9 1394.6h0M184.6 1387.4h0M183.2 1381.7h0M174.6 1376.0h0M170.3 1381.7h0M166.0 1384.6h0M201.8 1368.8h0M211.8 1368.8h0M217.5 1378.8h0M226.1 1363.1h0M231.9 1364.5h0M234.7 1370.2h0M237.6 1374.5h0M240.4 1361.7h0M249.0 1363.1h0M246.2 1371.7h0M249.0 1378.8h0M247.6 1384.6h0M254.8 1378.8h0M263.3 1383.1h0M270.5 1363.1h0M276.2 1364.5h0M282.0 1363.1h0M274.8 1371.7h0M271.9 1376.0h0M280.5 1371.7h0M286.2 1378.8h0M292.0 1376.0h0M294.8 1367.4h0M297.7 1373.1h0M289.1 1384.6h0M296.3 1381.7h0M277.2 1361.7h0M274.3 1368.8h0M280.1 1368.8h0M294.4 1365.9h0M291.5 1371.7h0M288.6 1376.0h0M285.8 1381.7h0M292.9 1378.8h0M295.8 1383.1h0M282.9 1386.0h0M271.5 1386.0h0M314.4 1383.1h0M335.9 1364.5h0M268.6 1374.5h0M467.6 1344.5h0M477.6 1337.3h0M479.0 1343.0h0M507.7 1371.7h0M523.4 1368.8h0M523.4 1350.2h0M478.6 1335.9h0M475.7 1343.1h0M535.8 1343.1h0M548.0 1347.4h0M534.4 1367.4h0M538.7 1371.7h0M571.6 1357.4h0M575.9 1361.7h0M580.2 1364.6h0M584.5 1367.4h0M570.2 1371.7h0M564.5 1376.0h0M613.1 1358.8h0M617.4 1363.1h0M621.7 1360.3h0M628.9 1358.8h0M603.8 1368.9h0M616.0 1367.4h0M591.7 1377.5h0M596.0 1378.9h0M607.4 1391.8h0M613.1 1393.2h0M607.4 1398.9h0M614.6 1397.5h0M661.8 1364.6h0M657.5 1371.7h0M679.0 1393.9h0M701.9 1395.4h0M724.1 1388.2h0M707.6 1380.3h0M726.2 1374.6h0M724.3 1373.2h0M824.5 1371.7h0M827.4 1377.5h0M830.3 1382.5h0M847.4 1377.5h0M803.1 1393.2h0M708.6 1381.8h0" stroke="#74add1" stroke-width="10.6" stroke-linecap="round" fill="none"/>
<path d="M161.7 1387.4h0M166.0 1393.1h0M231.9 1404.6h0M229.0 1407.5h0M270.5 1413.2h0M282.0 1407.5h0M284.8 1408.9h0M239.0 1423.2h0M240.4 1428.9h0M271.5 1414.6h0M282.9 1406.0h0M275.8 1418.9h0M463.3 1348.8h0M477.6 1386.0h0M486.2 1378.8h0M503.4 1383.1h0M520.5 1387.4h0M481.9 1421.1h0M502.9 1381.8h0M520.1 1384.6h0M525.8 1381.8h0M531.6 1386.0h0M541.6 1387.5h0M547.3 1398.9h0M567.3 1397.5h0M573.1 1398.9h0M580.2 1396.8h0M593.1 1406.8h0M643.9 1388.2h0M676.1 1384.6h0M673.3 1390.3h0M661.8 1396.8h0M654.7 1401.8h0M667.5 1400.4h0M803.1 1407.5h0M807.4 1411.8h0M800.2 1413.2h0M805.9 1417.5h0M811.7 1419.0h0M797.3 1417.5h0M810.2 1423.3h0M869.6 1406.1h0" stroke="#ffd92f" stroke-width="10.6" stroke-linecap="round" fill="none"/>
<path d="M154.6 1396.0h0M236.1 1413.2h0M246.2 1411.8h0M241.9 1416.0h0M247.6 1417.5h0M231.9 1420.3h0M226.1 1424.6h0M220.4 1430.4h0M216.1 1433.2h0M193.2 1431.1h0M220.4 1440.4h0M221.8 1446.1h0M211.8 1452.5h0M227.6 1449.0h0M230.4 1459.0h0M237.6 1456.1h0M241.9 1460.4h0M247.6 1466.1h0M249.0 1473.3h0M267.6 1427.5h0M270.5 1431.8h0M271.9 1436.1h0M277.7 1446.1h0M280.5 1450.4h0M265.7 1427.5h0M271.5 1430.4h0M268.6 1434.7h0M585.9 1417.5h0M572.3 1427.6h0M603.1 1411.8h0M607.4 1417.5h0M611.7 1411.8h0M694.7 1419.0h0M693.3 1440.4h0M699.0 1443.3h0M701.9 1439.0h0M747.7 1439.0h0M791.6 1427.6h0M797.3 1426.1h0M803.1 1427.6h0M798.8 1430.4h0M804.5 1431.9h0M759.4 1436.9h0M767.3 1440.4h0M763.0 1441.2h0M701.4 1440.4h0M234.3 1457.2h0M238.6 1461.5h0M245.7 1467.2h0M251.5 1472.9h0M607.5 1415.7h0" stroke="#ff7f00" stroke-width="10.6" stroke-linecap="round" fill="none"/>
<path d="M256.2 1474.7h0M260.5 1479.0h0M255.7 1477.6h0M258.6 1481.9h0M306.5 1481.9h0M319.4 1489.8h0M501.9 1480.5h0M490.5 1491.9h0M526.3 1484.8h0M688.3 1450.5h0M501.5 1476.2h0M527.3 1483.4h0M488.6 1489.1h0M598.8 1477.7h0M766.6 1458.3h0M761.6 1464.8h0M771.6 1466.2h0M767.3 1470.5h0M774.4 1471.9h0M764.4 1469.1h0M770.1 1476.2h0M257.9 1475.8h0M598.9 1480.9h0" stroke="#e31a1c" stroke-width="10.6" stroke-linecap="round" fill="none"/>
<path d="M295.8 1457.6h0M590.2 1476.2h0M591.7 1483.4h0M596.0 1487.7h0M284.4 1538.8h0M290.8 1550.2h0M311.6 1543.1h0M308.0 1547.4h0M327.3 1550.9h0M357.4 1572.4h0M313.7 1585.3h0M353.1 1591.0h0M356.7 1593.9h0M590.3 1474.4h0M588.9 1481.6h0M591.8 1487.3h0M594.6 1491.6h0M588.9 1493.0h0M591.8 1494.5h0M570.3 1505.9h0M574.6 1503.1h0M578.9 1505.9h0M568.8 1511.7h0M573.1 1514.5h0M584.6 1507.4h0M587.5 1513.1h0M590.3 1518.8h0M586.0 1520.2h0M581.7 1514.5h0M560.3 1528.8h0M563.1 1533.1h0M567.4 1534.6h0M561.7 1538.8h0M566.0 1530.3h0M583.2 1548.9h0M586.7 1550.3h0M583.9 1553.2h0M611.8 1551.7h0M617.5 1554.6h0M621.8 1556.0h0M606.8 1568.2h0M609.6 1570.3h0M581.7 1576.8h0M586.0 1577.5h0M575.3 1586.1h0M578.9 1587.5h0" stroke="#e78ac3" stroke-width="10.6" stroke-linecap="round" fill="none"/>
<path d="M311.2 1570.3h0M320.9 1593.9h0M337.4 1599.6h0M343.1 1601.0h0M347.4 1598.9h0M346.7 1604.6h0M303.0 1608.9h0M320.2 1613.9h0M295.8 1619.6h0M301.6 1621.8h0M305.9 1618.2h0M294.4 1624.7h0M565.7 1583.2h0M873.9 1598.2h0M871.1 1603.2h0M867.5 1608.9h0M865.3 1615.4h0M868.9 1613.2h0M883.2 1610.4h0M885.4 1616.1h0M888.9 1619.0h0M886.1 1629.7h0" stroke="#9970ab" stroke-width="10.6" stroke-linecap="round" fill="none"/>
<path d="M303.3 1640.4h0M297.3 1652.6h0M293.7 1659.0h0M291.6 1663.3h0M295.8 1666.2h0M301.6 1670.5h0M305.9 1672.6h0" stroke="#54278f" stroke-width="10.6" stroke-linecap="round" fill="none"/>
</g>
<g transform="translate(0 623.9)"><g clip-path="url(#mapclip)">
<use href="#land" fill="none" stroke="#000" stroke-width="2.1" stroke-linejoin="round"/>
<use href="#seas" fill="none" stroke="#000" stroke-width="2.1" stroke-linejoin="round"/>
<use href="#lakes" fill="none" stroke="#000" stroke-width="2.1" stroke-linejoin="round"/>
</g></g>
<text x="22.6" y="1194.8" font-size="34" font-weight="bold" fill="#000">f</text>
<rect x="1191" y="547.4" width="691.5" height="506.5" fill="none" stroke="#262626" stroke-width="2"/>
<g fill="none" stroke-width="5.8" stroke-linejoin="round" stroke-linecap="butt">
<path d="M1232.82 1053.9 L1428.47 1053.9 L1459.76 1052.35 L1486.34 1047.97 L1512.93 1039.33 L1547.03 1013.25 L1574.17 961.96 L1601.78 888.34 L1629.39 856.14 L1656.99 867.18 L1690.12 899.39 L1714.05 939.88 L1743.5 987.73 L1772.95 1017.18 L1800.55 1034.66 L1828.16 1044.79 L1861.29 1049.39" stroke="#6b6b6b"/>
<path d="M1232.82 1053.62 L1400.86 1053.62 L1428.47 1053.07 L1456.08 1045.71 L1485.52 1020.86 L1511.29 956.44 L1530 914.11 L1574.17 793.99 L1601.78 759.94 L1629.39 759.94 L1658.84 784.79 L1690.12 825.77 L1714.05 873.62 L1743.5 936.2 L1772.95 1000.61 L1800.55 1033.74 L1828.16 1047.55 L1861.29 1051.23" stroke="#4575b4"/>
<path d="M1232.82 1048.47 L1259.51 1050.31 L1286.75 1051.23 L1313.44 1050.68 L1340.12 1048.47 L1375.09 1042.03 L1400.86 1024.54 L1428.47 991.41 L1456.08 938.04 L1483.68 866.26 L1513.13 797.67 L1530 773.74 L1548.41 747.98 L1574.17 721.29 L1601.78 711.17 L1629.39 716.69 L1658.84 738.77 L1690.12 768.22 L1714.05 803.19 L1743.5 853.37 L1772.95 917.79 L1800.55 969.33 L1828.16 1007.98 L1861.29 1030.98" stroke="#74add1"/>
<path d="M1232.82 971.17 L1259.51 975.25 L1286.75 971.15 L1313.44 957.24 L1340.12 933.81 L1375.09 901.18 L1400.86 862.72 L1428.47 824.68 L1456.08 789.55 L1483.68 752.62 L1511.29 722.49 L1530 707.07 L1548.41 692.62 L1574.17 678.03 L1601.78 669.18 L1629.39 670.57 L1658.84 682.55 L1690.12 701.23 L1714.05 725.34 L1732.46 748.25 L1750.86 777.22 L1787.67 826.52 L1806.08 859.17 L1828.16 889.31 L1861.29 924.23" stroke="#ffd92f"/>
<path d="M1232.82 861.66 L1259.51 861.8 L1286.75 854.64 L1313.44 840 L1340.12 819.12 L1375.09 791.67 L1400.86 761.14 L1428.47 731.96 L1454.23 704.82 L1483.68 675.74 L1511.29 654.48 L1530 644.22 L1548.41 633.22 L1574.17 623.46 L1601.78 617.93 L1629.39 619.02 L1658.84 628.03 L1690.12 643.02 L1719.57 668.38 L1750.86 703.62 L1787.67 748.53 L1824.48 794.57 L1861.29 826.69" stroke="#ff7f00"/>
<path d="M1232.82 649.14 L1259.51 648.84 L1286.75 646.95 L1313.44 643.85 L1340.12 639.99 L1366.81 636.31 L1393.5 633.08 L1419.27 630.69 L1446.87 629.27 L1474.48 629.03 L1502.09 629.6 L1530 630.3 L1566.81 631.22 L1603.62 631.02 L1631.23 629.99 L1658.84 628.03 L1686.44 626.27 L1714.05 625.46 L1741.66 626.2 L1769.27 628.62 L1796.87 632.69 L1824.48 637.49 L1861.29 642.15" stroke="#e31a1c"/>
<path d="M1232.82 673.07 L1259.51 672.29 L1286.75 672.29 L1313.44 673.4 L1340.12 676.34 L1375.09 680.69 L1400.86 687.57 L1428.47 696.58 L1454.23 706.7 L1483.68 717.75 L1511.29 728.61 L1530 735.09 L1548.41 740.28 L1574.17 743.62 L1601.78 744.61 L1629.39 741.77 L1658.84 734.96 L1690.12 726.81 L1714.05 717.56 L1750.86 704.36 L1787.67 693.18 L1824.48 685.03 L1861.29 679.88" stroke="#e78ac3"/>
<path d="M1232.82 751.66 L1259.51 748.72 L1286.75 749.98 L1313.44 756.08 L1340.12 766.93 L1375.09 781.38 L1400.86 799.12 L1428.47 823.02 L1456.08 844.17 L1483.68 864.42 L1511.29 882.59 L1530 892.21 L1574.17 903.06 L1601.78 905.53 L1629.39 901.4 L1658.84 892.39 L1690.12 879.92 L1714.05 864.46 L1750.86 840.49 L1787.67 814.65 L1824.48 790.2 L1861.29 773.74" stroke="#9970ab"/>
<path d="M1232.82 887.98 L1259.51 882.26 L1286.75 878.86 L1313.44 879.44 L1340.12 884.24 L1375.09 892.72 L1400.86 905.46 L1428.47 921.47 L1456.08 937.9 L1483.68 953.54 L1511.29 967.44 L1530 977.93 L1574.17 991.46 L1601.78 997.44 L1629.39 999.14 L1658.84 997.3 L1690.12 991.92 L1714.05 982.26 L1750.86 963.67 L1787.67 942.78 L1824.48 923.55 L1861.29 909.88" stroke="#54278f"/>
</g>
<path d="M1362.4 1053.9v-7M1362.4 547.4v7M1533.8 1053.9v-7M1533.8 547.4v7M1705.2 1053.9v-7M1705.2 547.4v7M1876.6 1053.9v-7M1876.6 547.4v7" stroke="#262626" stroke-width="2" fill="none"/>
<path d="M1225.28 1053.9v-3.6M1225.28 547.4v3.6M1259.56 1053.9v-3.6M1259.56 547.4v3.6M1293.84 1053.9v-3.6M1293.84 547.4v3.6M1328.12 1053.9v-3.6M1328.12 547.4v3.6M1396.68 1053.9v-3.6M1396.68 547.4v3.6M1430.96 1053.9v-3.6M1430.96 547.4v3.6M1465.24 1053.9v-3.6M1465.24 547.4v3.6M1499.52 1053.9v-3.6M1499.52 547.4v3.6M1568.08 1053.9v-3.6M1568.08 547.4v3.6M1602.36 1053.9v-3.6M1602.36 547.4v3.6M1636.64 1053.9v-3.6M1636.64 547.4v3.6M1670.92 1053.9v-3.6M1670.92 547.4v3.6M1739.48 1053.9v-3.6M1739.48 547.4v3.6M1773.76 1053.9v-3.6M1773.76 547.4v3.6M1808.04 1053.9v-3.6M1808.04 547.4v3.6M1842.32 1053.9v-3.6M1842.32 547.4v3.6" stroke="#262626" stroke-width="1.6" fill="none"/>
<path d="M1191 981.54h7M1882.5 981.54h-7M1191 909.19h7M1882.5 909.19h-7M1191 836.83h7M1882.5 836.83h-7M1191 764.47h7M1882.5 764.47h-7M1191 692.11h7M1882.5 692.11h-7M1191 619.76h7M1882.5 619.76h-7" stroke="#262626" stroke-width="2" fill="none"/>
<path d="M1191 1039.43h3.6M1882.5 1039.43h-3.6M1191 1024.96h3.6M1882.5 1024.96h-3.6M1191 1010.49h3.6M1882.5 1010.49h-3.6M1191 996.01h3.6M1882.5 996.01h-3.6M1191 967.07h3.6M1882.5 967.07h-3.6M1191 952.6h3.6M1882.5 952.6h-3.6M1191 938.13h3.6M1882.5 938.13h-3.6M1191 923.66h3.6M1882.5 923.66h-3.6M1191 894.71h3.6M1882.5 894.71h-3.6M1191 880.24h3.6M1882.5 880.24h-3.6M1191 865.77h3.6M1882.5 865.77h-3.6M1191 851.3h3.6M1882.5 851.3h-3.6M1191 822.36h3.6M1882.5 822.36h-3.6M1191 807.89h3.6M1882.5 807.89h-3.6M1191 793.41h3.6M1882.5 793.41h-3.6M1191 778.94h3.6M1882.5 778.94h-3.6M1191 750h3.6M1882.5 750h-3.6M1191 735.53h3.6M1882.5 735.53h-3.6M1191 721.06h3.6M1882.5 721.06h-3.6M1191 706.59h3.6M1882.5 706.59h-3.6M1191 677.64h3.6M1882.5 677.64h-3.6M1191 663.17h3.6M1882.5 663.17h-3.6M1191 648.7h3.6M1882.5 648.7h-3.6M1191 634.23h3.6M1882.5 634.23h-3.6M1191 605.29h3.6M1882.5 605.29h-3.6M1191 590.81h3.6M1882.5 590.81h-3.6M1191 576.34h3.6M1882.5 576.34h-3.6M1191 561.87h3.6M1882.5 561.87h-3.6" stroke="#262626" stroke-width="1.6" fill="none"/>
<text x="1191" y="1086.1" font-size="28.8" text-anchor="middle" fill="#262626">0</text>
<text x="1362.4" y="1086.1" font-size="28.8" text-anchor="middle" fill="#262626">0.25</text>
<text x="1533.8" y="1086.1" font-size="28.8" text-anchor="middle" fill="#262626">0.5</text>
<text x="1705.2" y="1086.1" font-size="28.8" text-anchor="middle" fill="#262626">0.75</text>
<text x="1876.6" y="1086.1" font-size="28.8" text-anchor="middle" fill="#262626">1</text>
<text x="1185.2" y="1064.9" font-size="28.8" text-anchor="end" fill="#262626">0</text>
<text x="1185.2" y="920.19" font-size="28.8" text-anchor="end" fill="#262626">10</text>
<text x="1185.2" y="775.47" font-size="28.8" text-anchor="end" fill="#262626">20</text>
<text x="1185.2" y="630.76" font-size="28.8" text-anchor="end" fill="#262626">30</text>
<text x="1094.3" y="800.5" font-size="32.4" text-anchor="middle" fill="#262626" transform="rotate(-90 1094.3 800.5)">Lake surface</text>
<text x="1144.3" y="800.5" font-size="32.4" text-anchor="middle" fill="#262626" transform="rotate(-90 1144.3 800.5)">temperature (<tspan dy="-16" font-size="24">o</tspan><tspan dy="16">C)</tspan></text>
<text x="1536.75" y="1122.5" font-size="32.4" text-anchor="middle" fill="#262626">Fraction of year</text>
<text x="1202.5" y="588.4" font-size="33.5" font-weight="bold" fill="#000">e</text>
<circle cx="1260.1" cy="1551.95" r="16.8" fill="#6b6b6b" stroke="#777" stroke-opacity="0.8" stroke-width="1.5"/>
<circle cx="1329.18" cy="1226.21" r="16.8" fill="#4575b4" stroke="#777" stroke-opacity="0.8" stroke-width="1.5"/>
<circle cx="1398.26" cy="1505.62" r="16.8" fill="#74add1" stroke="#777" stroke-opacity="0.8" stroke-width="1.5"/>
<circle cx="1467.34" cy="1598.28" r="16.8" fill="#ffd92f" stroke="#777" stroke-opacity="0.8" stroke-width="1.5"/>
<circle cx="1536.42" cy="1617.1" r="16.8" fill="#ff7f00" stroke="#777" stroke-opacity="0.8" stroke-width="1.5"/>
<circle cx="1605.5" cy="1657.63" r="16.8" fill="#e31a1c" stroke="#777" stroke-opacity="0.8" stroke-width="1.5"/>
<circle cx="1674.58" cy="1618.54" r="16.8" fill="#e78ac3" stroke="#777" stroke-opacity="0.8" stroke-width="1.5"/>
<circle cx="1743.66" cy="1646.05" r="16.8" fill="#9970ab" stroke="#777" stroke-opacity="0.8" stroke-width="1.5"/>
<circle cx="1812.74" cy="1667.77" r="16.8" fill="#54278f" stroke="#777" stroke-opacity="0.8" stroke-width="1.5"/>
<path d="M1260.1 1191.81 L1329.18 1221.03 L1398.26 1543.03 L1467.34 1657.8 L1536.42 1656.37 L1605.5 1639.05 L1674.58 1656.79 L1743.66 1658.22 L1812.74 1672.24" fill="none" stroke="#000" stroke-width="2.2" stroke-linejoin="round"/>
<rect x="1191" y="1171.2" width="691.5" height="506.7" fill="none" stroke="#262626" stroke-width="2"/>
<path d="M1191 1605.51h7M1191 1533.13h7M1191 1460.74h7M1191 1388.36h7M1191 1315.97h7M1191 1243.59h7" stroke="#262626" stroke-width="2" fill="none"/>
<path d="M1882.5 1593.45h-7M1882.5 1509h-7M1882.5 1424.55h-7M1882.5 1340.1h-7M1882.5 1255.65h-7" stroke="#262626" stroke-width="2" fill="none"/>
<path d="M1882.5 1661.01h-3.6M1882.5 1644.12h-3.6M1882.5 1627.23h-3.6M1882.5 1610.34h-3.6M1882.5 1576.56h-3.6M1882.5 1559.67h-3.6M1882.5 1542.78h-3.6M1882.5 1525.89h-3.6M1882.5 1492.11h-3.6M1882.5 1475.22h-3.6M1882.5 1458.33h-3.6M1882.5 1441.44h-3.6M1882.5 1407.66h-3.6M1882.5 1390.77h-3.6M1882.5 1373.88h-3.6M1882.5 1356.99h-3.6M1882.5 1323.21h-3.6M1882.5 1306.32h-3.6M1882.5 1289.43h-3.6M1882.5 1272.54h-3.6M1882.5 1238.76h-3.6M1882.5 1221.87h-3.6M1882.5 1204.98h-3.6M1882.5 1188.09h-3.6" stroke="#262626" stroke-width="1.6" fill="none"/>
<path d="M1260.1 1677.9v-7M1260.1 1171.2v7M1329.18 1677.9v-7M1329.18 1171.2v7M1398.26 1677.9v-7M1398.26 1171.2v7M1467.34 1677.9v-7M1467.34 1171.2v7M1536.42 1677.9v-7M1536.42 1171.2v7M1605.5 1677.9v-7M1605.5 1171.2v7M1674.58 1677.9v-7M1674.58 1171.2v7M1743.66 1677.9v-7M1743.66 1171.2v7M1812.74 1677.9v-7M1812.74 1171.2v7" stroke="#262626" stroke-width="2" fill="none"/>
<path d="M1204.84 1677.9v-3.6M1204.84 1171.2v3.6M1218.65 1677.9v-3.6M1218.65 1171.2v3.6M1232.47 1677.9v-3.6M1232.47 1171.2v3.6M1246.28 1677.9v-3.6M1246.28 1171.2v3.6M1273.92 1677.9v-3.6M1273.92 1171.2v3.6M1287.73 1677.9v-3.6M1287.73 1171.2v3.6M1301.55 1677.9v-3.6M1301.55 1171.2v3.6M1315.36 1677.9v-3.6M1315.36 1171.2v3.6M1343 1677.9v-3.6M1343 1171.2v3.6M1356.81 1677.9v-3.6M1356.81 1171.2v3.6M1370.63 1677.9v-3.6M1370.63 1171.2v3.6M1384.44 1677.9v-3.6M1384.44 1171.2v3.6M1412.08 1677.9v-3.6M1412.08 1171.2v3.6M1425.89 1677.9v-3.6M1425.89 1171.2v3.6M1439.71 1677.9v-3.6M1439.71 1171.2v3.6M1453.52 1677.9v-3.6M1453.52 1171.2v3.6M1481.16 1677.9v-3.6M1481.16 1171.2v3.6M1494.97 1677.9v-3.6M1494.97 1171.2v3.6M1508.79 1677.9v-3.6M1508.79 1171.2v3.6M1522.6 1677.9v-3.6M1522.6 1171.2v3.6M1550.24 1677.9v-3.6M1550.24 1171.2v3.6M1564.05 1677.9v-3.6M1564.05 1171.2v3.6M1577.87 1677.9v-3.6M1577.87 1171.2v3.6M1591.68 1677.9v-3.6M1591.68 1171.2v3.6M1619.32 1677.9v-3.6M1619.32 1171.2v3.6M1633.13 1677.9v-3.6M1633.13 1171.2v3.6M1646.95 1677.9v-3.6M1646.95 1171.2v3.6M1660.76 1677.9v-3.6M1660.76 1171.2v3.6M1688.4 1677.9v-3.6M1688.4 1171.2v3.6M1702.21 1677.9v-3.6M1702.21 1171.2v3.6M1716.03 1677.9v-3.6M1716.03 1171.2v3.6M1729.84 1677.9v-3.6M1729.84 1171.2v3.6M1757.48 1677.9v-3.6M1757.48 1171.2v3.6M1771.29 1677.9v-3.6M1771.29 1171.2v3.6M1785.11 1677.9v-3.6M1785.11 1171.2v3.6M1798.92 1677.9v-3.6M1798.92 1171.2v3.6M1826.56 1677.9v-3.6M1826.56 1171.2v3.6M1840.37 1677.9v-3.6M1840.37 1171.2v3.6M1854.19 1677.9v-3.6M1854.19 1171.2v3.6" stroke="#262626" stroke-width="1.6" fill="none"/>
<text x="1260.1" y="1710.1" font-size="28.8" text-anchor="middle" fill="#262626">NF</text>
<text x="1329.18" y="1710.1" font-size="28.8" text-anchor="middle" fill="#262626">NC</text>
<text x="1398.26" y="1710.1" font-size="28.8" text-anchor="middle" fill="#262626">NT</text>
<text x="1467.34" y="1710.1" font-size="28.8" text-anchor="middle" fill="#262626">NW</text>
<text x="1536.42" y="1710.1" font-size="28.8" text-anchor="middle" fill="#262626">NH</text>
<text x="1605.5" y="1710.1" font-size="28.8" text-anchor="middle" fill="#262626">TH</text>
<text x="1674.58" y="1710.1" font-size="28.8" text-anchor="middle" fill="#262626">SH</text>
<text x="1743.66" y="1710.1" font-size="28.8" text-anchor="middle" fill="#262626">SW</text>
<text x="1812.74" y="1710.1" font-size="28.8" text-anchor="middle" fill="#262626">ST</text>
<text x="1185.2" y="1688.9" font-size="28.8" text-anchor="end" fill="#262626">0</text>
<text x="1185.2" y="1616.51" font-size="28.8" text-anchor="end" fill="#262626">50</text>
<text x="1185.2" y="1544.13" font-size="28.8" text-anchor="end" fill="#262626">100</text>
<text x="1185.2" y="1471.74" font-size="28.8" text-anchor="end" fill="#262626">150</text>
<text x="1185.2" y="1399.36" font-size="28.8" text-anchor="end" fill="#262626">200</text>
<text x="1185.2" y="1326.97" font-size="28.8" text-anchor="end" fill="#262626">250</text>
<text x="1185.2" y="1254.59" font-size="28.8" text-anchor="end" fill="#262626">300</text>
<text x="1185.2" y="1182.2" font-size="28.8" text-anchor="end" fill="#262626">350</text>
<text x="1888.5" y="1688.9" font-size="28.8" fill="#262626">0</text>
<text x="1888.5" y="1604.45" font-size="28.8" fill="#262626">1</text>
<text x="1888.5" y="1520" font-size="28.8" fill="#262626">2</text>
<text x="1888.5" y="1435.55" font-size="28.8" fill="#262626">3</text>
<text x="1888.5" y="1351.1" font-size="28.8" fill="#262626">4</text>
<text x="1888.5" y="1266.65" font-size="28.8" fill="#262626">5</text>
<text x="1888.5" y="1182.2" font-size="28.8" fill="#262626">6</text>
<text x="1125.5" y="1424.55" font-size="32.4" text-anchor="middle" fill="#262626" transform="rotate(-90 1125.5 1424.55)">Number of studied lakes</text>
<text x="1949" y="1425.55" font-size="32.6" text-anchor="middle" fill="#262626" transform="rotate(-90 1949 1425.55)">Number of lakes globally (x10<tspan dy="-16" font-size="26">5</tspan><tspan dy="16">)</tspan></text>
<text x="1202.5" y="1212.2" font-size="33.5" font-weight="bold" fill="#000">g</text>
<rect x="343" y="1782" width="21" height="21" rx="1.5" fill="#6b6b6b"/>
<text x="428" y="1803" font-size="29.2" fill="#0a0a0a">NF - Northern Frigid</text>
<rect x="343" y="1823" width="21" height="21" rx="1.5" fill="#4575b4"/>
<text x="428" y="1844" font-size="29.2" fill="#0a0a0a">NC - Northern Cool</text>
<rect x="343" y="1863.5" width="21" height="21" rx="1.5" fill="#74add1"/>
<text x="428" y="1884.5" font-size="29.2" fill="#0a0a0a">NT - Northern Temperate</text>
<rect x="841.5" y="1782" width="21" height="21" rx="1.5" fill="#ffd92f"/>
<text x="928" y="1803" font-size="29.2" fill="#0a0a0a">NW - Northern Warm</text>
<rect x="841.5" y="1823" width="21" height="21" rx="1.5" fill="#ff7f00"/>
<text x="928" y="1844" font-size="29.2" fill="#0a0a0a">NH - Northern Hot</text>
<rect x="841.5" y="1863.5" width="21" height="21" rx="1.5" fill="#e31a1c"/>
<text x="928" y="1884.5" font-size="29.2" fill="#0a0a0a">TH - Tropical Hot</text>
<rect x="1286.5" y="1782" width="21" height="21" rx="1.5" fill="#e78ac3"/>
<text x="1373" y="1803" font-size="29.2" fill="#0a0a0a">SH - Southern Hot</text>
<rect x="1286.5" y="1823" width="21" height="21" rx="1.5" fill="#9970ab"/>
<text x="1373" y="1844" font-size="29.2" fill="#0a0a0a">SW - Southern Warm</text>
<rect x="1286.5" y="1863.5" width="21" height="21" rx="1.5" fill="#54278f"/>
<text x="1373" y="1884.5" font-size="29.2" fill="#0a0a0a">ST - Southern Temperate</text>
</svg>
</body></html>
